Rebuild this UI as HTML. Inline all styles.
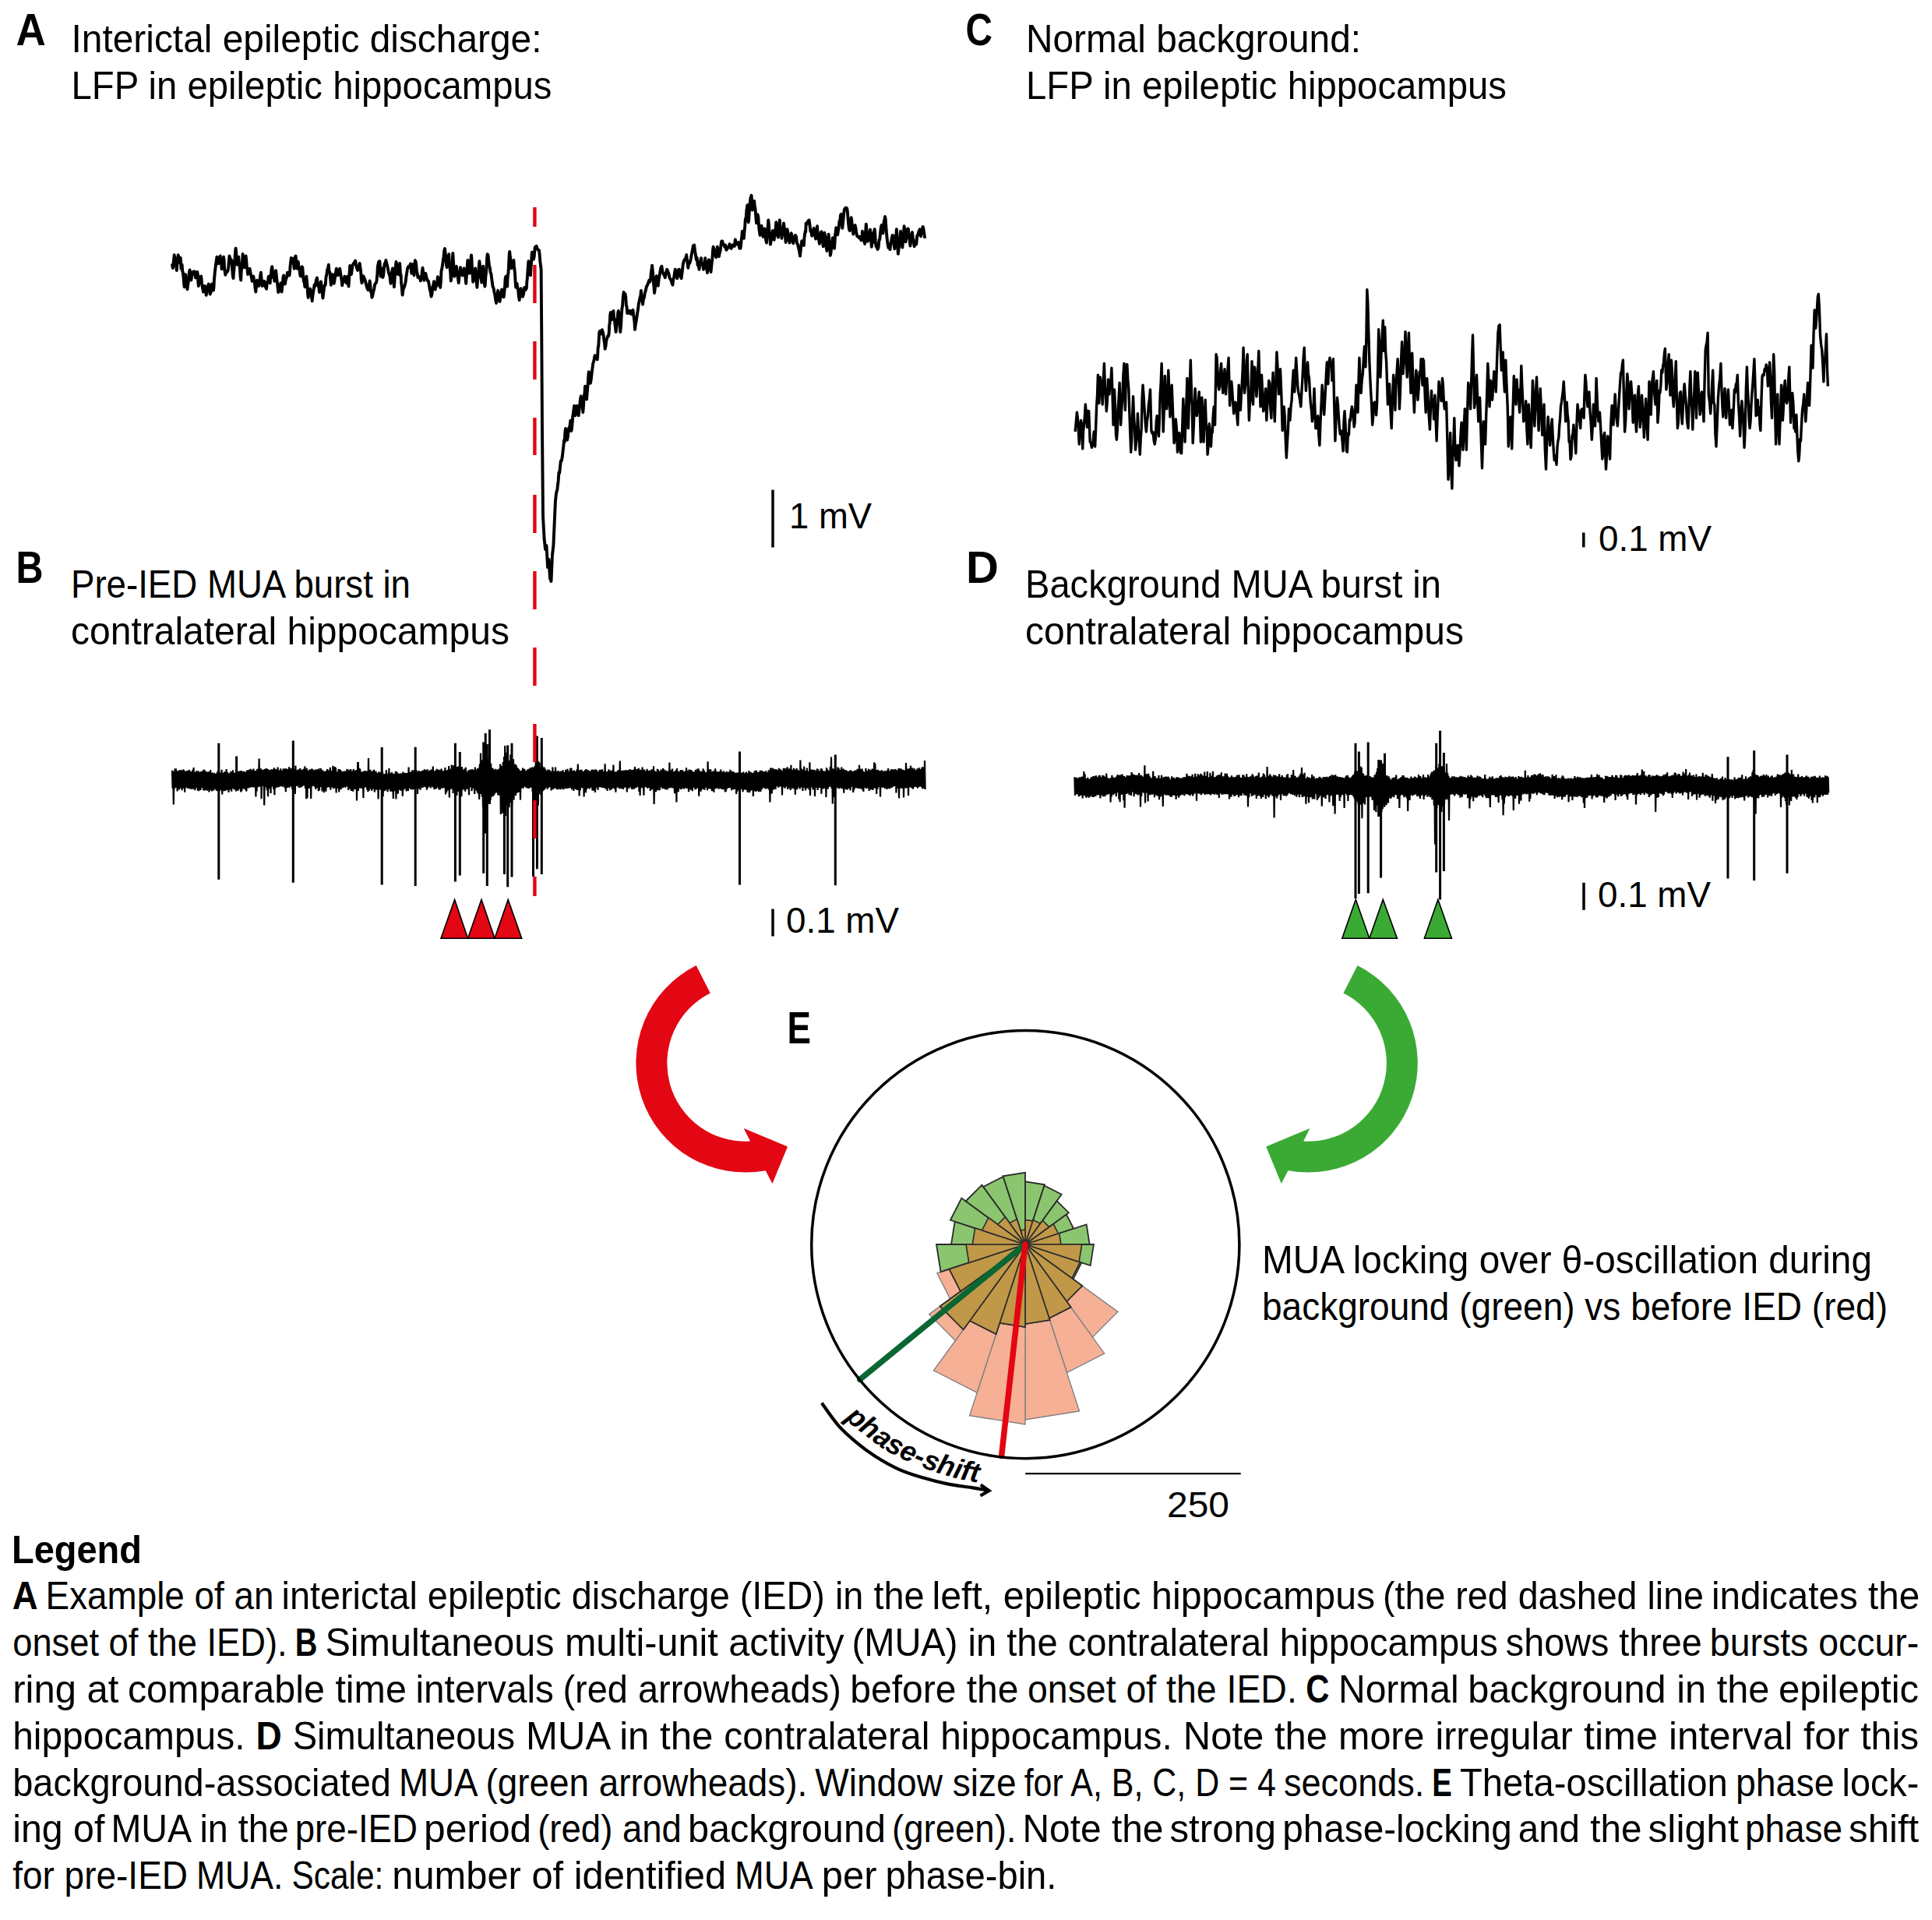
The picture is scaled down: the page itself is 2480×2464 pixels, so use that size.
<!DOCTYPE html>
<html><head><meta charset="utf-8"><style>html,body{margin:0;padding:0;background:#fff;width:2480px;height:2464px;overflow:hidden}</style></head>
<body>
<svg width="2480" height="2464" viewBox="0 0 2480 2464" style="display:block;font-family:'Liberation Sans',sans-serif">
<rect width="2480" height="2464" fill="#fff"/>
<text x="20.5" y="58.4" font-size="58" font-weight="bold" font-style="normal" textLength="38.3" lengthAdjust="spacingAndGlyphs" >A</text>
<text x="91.5" y="67.3" font-size="49.5" font-weight="normal" font-style="normal" textLength="604.0" lengthAdjust="spacingAndGlyphs" >Interictal epileptic discharge:</text>
<text x="91.5" y="126.7" font-size="49.5" font-weight="normal" font-style="normal" textLength="617.0" lengthAdjust="spacingAndGlyphs" >LFP in epileptic hippocampus</text>
<text x="1239.5" y="58.4" font-size="58" font-weight="bold" font-style="normal" textLength="34.5" lengthAdjust="spacingAndGlyphs" >C</text>
<text x="1317.0" y="67.3" font-size="49.5" font-weight="normal" font-style="normal" textLength="430.0" lengthAdjust="spacingAndGlyphs" >Normal background:</text>
<text x="1317.0" y="126.7" font-size="49.5" font-weight="normal" font-style="normal" textLength="617.0" lengthAdjust="spacingAndGlyphs" >LFP in epileptic hippocampus</text>
<text x="20.5" y="747.8" font-size="58" font-weight="bold" font-style="normal" textLength="35.0" lengthAdjust="spacingAndGlyphs" >B</text>
<text x="91.0" y="767.0" font-size="49.5" font-weight="normal" font-style="normal" textLength="436.0" lengthAdjust="spacingAndGlyphs" >Pre-IED MUA burst in</text>
<text x="91.0" y="826.7" font-size="49.5" font-weight="normal" font-style="normal" textLength="563.0" lengthAdjust="spacingAndGlyphs" >contralateral hippocampus</text>
<text x="1240.0" y="747.8" font-size="58" font-weight="bold" font-style="normal" >D</text>
<text x="1316.0" y="767.0" font-size="49.5" font-weight="normal" font-style="normal" textLength="534.0" lengthAdjust="spacingAndGlyphs" >Background MUA burst in</text>
<text x="1316.0" y="826.7" font-size="49.5" font-weight="normal" font-style="normal" textLength="563.0" lengthAdjust="spacingAndGlyphs" >contralateral hippocampus</text>
<g stroke="#000" stroke-width="3.5">
<line x1="992" y1="628.6" x2="992" y2="702.5"/>
<line x1="2032.8" y1="683.5" x2="2032.8" y2="702.3"/>
<line x1="992" y1="1166.5" x2="992" y2="1201.5"/>
<line x1="2033" y1="1132.8" x2="2033" y2="1167.8"/>
</g>
<text x="1013.0" y="677.8" font-size="47.025" font-weight="normal" font-style="normal" textLength="106.0" lengthAdjust="spacingAndGlyphs" >1 mV</text>
<text x="2052.0" y="706.7" font-size="47.025" font-weight="normal" font-style="normal" textLength="145.0" lengthAdjust="spacingAndGlyphs" >0.1 mV</text>
<text x="1009.0" y="1197.4" font-size="47.025" font-weight="normal" font-style="normal" textLength="145.0" lengthAdjust="spacingAndGlyphs" >0.1 mV</text>
<text x="2051.0" y="1164.3" font-size="47.025" font-weight="normal" font-style="normal" textLength="145.0" lengthAdjust="spacingAndGlyphs" >0.1 mV</text>
<path d="M221.0,338.4 221.8,344.0 222.5,338.4 223.1,333.5 223.7,327.3 225.2,334.7 226.0,340.3 226.8,347.1 227.4,338.6 228.0,332.9 228.7,327.3 229.6,330.1 230.5,337.2 231.8,331.0 232.1,338.0 232.4,344.7 233.6,339.7 234.3,348.4 234.9,350.0 235.5,355.5 236.1,363.6 236.7,368.3 237.4,361.0 238.0,352.1 238.8,358.8 239.6,362.9 240.5,371.4 241.2,365.1 242.0,360.5 242.8,349.8 243.6,346.5 244.5,352.0 245.4,359.6 246.5,351.7 247.5,349.3 248.5,348.4 249.8,348.4 251.0,356.5 252.1,352.2 253.3,349.0 253.8,352.2 254.3,361.6 254.8,367.0 255.6,363.4 256.4,358.7 257.2,355.2 258.2,354.5 259.1,363.7 260.0,369.6 261.0,374.5 261.9,371.0 262.8,367.0 263.8,369.6 264.7,378.8 265.7,373.0 266.8,367.1 267.8,364.5 268.7,369.3 269.7,377.6 270.5,375.6 271.3,367.1 272.1,364.5 273.1,368.5 274.0,372.6 274.5,368.5 274.9,359.2 275.4,354.2 275.9,348.4 276.7,342.4 277.5,336.1 278.4,329.8 279.3,331.4 280.2,338.4 281.5,333.6 282.7,328.5 283.3,337.1 283.9,336.3 284.6,345.3 285.4,342.0 286.2,335.2 287.0,329.8 287.6,334.1 288.2,345.6 288.7,348.7 289.3,352.7 290.4,348.2 291.5,349.2 292.6,347.1 293.3,342.2 293.9,334.3 294.5,328.5 295.7,332.5 297.0,333.5 297.6,339.2 298.2,346.7 298.9,354.3 299.5,357.1 300.0,349.2 300.5,344.7 301.0,336.8 301.5,331.7 302.1,322.4 302.6,318.6 303.2,324.3 303.8,332.2 304.4,339.7 305.4,336.7 306.3,329.8 306.9,338.2 307.4,338.8 308.0,345.9 308.6,355.0 309.2,359.6 309.7,348.5 310.2,345.1 310.7,339.2 311.1,335.5 311.6,326.0 312.3,333.3 313.1,336.9 313.8,343.4 314.7,335.2 315.6,328.5 316.2,333.9 316.9,343.7 317.5,345.3 318.1,352.1 319.3,347.7 320.6,344.7 321.6,350.8 322.7,355.2 323.7,360.8 325.3,354.6 326.1,359.1 326.8,362.1 327.5,369.5 328.3,374.5 329.1,366.0 329.9,359.6 331.1,365.9 332.4,367.0 333.2,362.7 334.0,355.4 334.9,349.6 335.5,356.9 336.1,360.5 336.7,367.0 338.0,366.2 339.2,360.8 340.1,364.1 341.0,368.7 342.0,370.7 342.9,362.5 343.9,360.7 344.8,354.6 345.7,355.2 346.7,363.3 347.3,353.5 347.9,352.1 348.5,345.5 349.2,342.2 349.9,347.2 350.7,356.4 351.5,354.3 352.3,360.8 353.2,352.6 354.1,347.1 354.8,353.2 355.4,359.4 356.0,363.5 356.6,369.1 357.2,375.1 358.3,372.7 359.3,368.4 360.3,363.3 361.0,366.6 361.6,374.5 362.2,369.0 362.8,364.0 363.4,356.3 364.1,353.4 365.0,359.5 365.9,364.5 367.0,357.7 368.0,356.7 369.0,349.6 370.3,351.9 371.5,353.4 372.1,348.0 372.6,340.9 373.2,336.3 373.8,331.0 375.2,332.2 376.1,332.0 376.9,338.0 377.7,344.7 378.4,340.1 379.0,329.2 379.6,328.5 380.2,335.8 380.8,335.4 381.5,344.7 382.7,336.0 383.5,342.3 384.3,343.4 385.0,351.7 385.8,354.6 386.7,348.7 387.7,342.2 388.4,344.0 389.2,355.4 389.9,361.0 390.7,362.9 391.4,368.3 392.3,360.8 393.3,354.6 393.9,361.1 394.5,366.1 395.1,377.5 395.7,381.9 397.0,375.1 398.2,370.7 399.1,375.8 399.9,379.4 400.7,386.3 401.6,377.8 402.6,372.0 403.7,365.3 404.8,367.0 405.8,360.0 406.9,356.5 407.7,363.2 408.5,365.8 409.3,368.9 410.0,375.1 411.0,367.5 411.9,361.4 412.5,365.5 413.1,372.0 413.8,376.4 414.4,382.5 415.2,376.8 416.0,369.4 416.9,365.6 417.7,365.9 418.5,355.7 419.3,352.1 420.2,345.7 421.0,344.6 421.8,339.7 422.6,349.3 423.4,349.5 424.2,358.8 424.9,365.8 425.9,357.6 426.8,352.1 427.7,354.1 428.7,363.9 429.4,360.7 430.2,354.2 431.0,349.6 431.8,344.7 432.7,347.4 433.6,353.4 434.9,350.0 436.1,344.7 436.9,348.9 437.7,355.2 438.4,358.5 439.2,366.4 440.3,359.8 441.3,361.5 442.3,354.6 443.6,357.8 444.8,363.3 446.1,354.6 446.8,361.8 447.5,367.6 448.0,360.9 448.4,353.3 448.8,346.5 449.2,340.9 450.1,347.9 451.0,352.1 451.8,345.6 452.6,340.5 453.8,338.2 455.0,336.6 456.2,334.6 457.2,341.3 458.1,344.3 459.1,346.9 460.4,343.2 461.6,337.9 462.4,342.9 463.1,347.5 463.8,358.9 464.5,363.1 465.3,360.7 466.2,354.1 467.5,356.7 468.8,359.9 469.7,364.1 470.7,367.7 471.7,370.9 472.6,372.2 473.6,368.4 474.6,360.5 475.3,364.9 476.0,374.5 476.7,373.8 477.4,381.9 478.3,379.6 479.2,374.5 480.2,371.2 481.1,365.1 483.0,362.5 483.6,359.7 484.3,351.9 484.9,341.8 486.1,336.0 487.3,335.3 487.7,338.0 488.1,350.0 488.6,354.7 489.3,347.3 490.1,344.3 490.8,350.1 491.4,356.0 492.2,353.4 493.0,343.6 493.7,338.2 494.5,339.0 495.3,334.0 496.2,337.5 497.0,340.4 497.9,344.3 498.8,349.3 499.7,352.2 500.6,355.6 501.5,363.8 502.4,356.9 503.2,348.7 504.1,344.3 504.5,346.7 505.0,357.4 505.4,362.2 505.9,368.3 506.4,362.7 506.9,353.2 507.5,347.4 508.0,340.2 508.5,335.9 509.3,339.4 510.0,347.2 510.8,352.1 511.6,345.6 512.4,343.4 513.1,337.9 513.6,344.4 514.1,354.0 514.6,352.3 515.1,363.1 515.6,366.8 516.1,372.8 516.6,378.6 517.7,370.9 518.8,368.6 519.9,365.1 520.7,361.5 521.5,354.5 522.3,349.7 523.1,344.3 524.4,341.8 525.7,343.0 527.0,338.5 527.6,344.6 528.3,350.8 528.9,340.2 529.6,339.2 530.6,344.8 531.5,353.4 532.2,343.0 532.8,334.2 533.5,335.3 534.2,339.3 535.0,348.6 535.7,350.9 536.4,356.0 537.6,354.9 538.8,356.9 539.9,360.5 540.8,357.4 541.7,349.7 542.5,343.7 543.2,349.2 543.8,354.4 544.5,359.9 545.4,355.4 546.4,350.8 547.3,355.7 548.2,358.2 549.1,360.6 550.0,360.9 550.9,366.3 551.8,372.2 552.7,374.3 553.5,380.6 554.4,378.1 555.3,368.1 556.2,365.7 557.1,361.2 557.9,366.3 558.7,371.5 559.5,364.6 560.3,367.2 561.1,362.6 561.9,355.3 563.0,358.9 564.1,366.1 565.2,368.9 565.8,362.0 566.5,347.7 567.1,345.6 567.9,340.9 568.7,334.9 569.4,329.9 570.2,322.1 571.0,319.1 571.6,324.5 572.3,330.7 572.9,339.7 573.6,343.1 574.4,338.2 575.3,331.8 576.2,326.2 576.7,336.5 577.2,338.7 577.7,345.9 578.2,349.7 578.8,360.5 579.3,356.9 579.8,348.4 580.3,341.2 580.8,333.5 581.3,324.9 581.8,332.6 582.3,340.3 582.8,346.7 583.3,354.7 584.1,349.9 585.0,346.2 585.9,341.8 586.6,350.4 587.3,353.7 588.0,357.6 588.7,363.1 589.5,355.2 590.3,348.3 591.0,343.1 591.9,350.0 592.8,351.1 593.6,353.4 594.6,349.0 595.6,344.3 596.4,350.1 597.3,354.8 598.2,363.8 598.7,356.2 599.3,350.8 599.8,340.6 600.4,334.0 601.1,339.1 601.9,344.7 602.7,350.8 603.3,345.2 603.9,335.7 604.4,332.8 605.0,327.5 605.5,332.5 605.9,343.2 606.3,346.4 606.8,356.2 607.2,361.8 608.2,359.3 609.2,349.5 610.2,344.3 610.7,349.2 611.3,357.1 611.8,362.8 612.4,368.9 613.0,360.0 613.6,356.5 614.2,353.2 614.8,341.5 615.4,335.3 616.1,341.6 616.8,346.6 617.5,356.4 618.2,362.5 618.9,352.8 619.5,346.2 620.2,341.8 620.7,351.0 621.3,352.7 621.8,363.5 622.4,367.6 622.8,365.1 623.3,356.4 623.8,351.1 624.3,348.3 624.8,337.6 625.2,330.8 625.7,326.2 626.5,327.5 627.3,334.7 628.1,342.1 628.8,343.1 629.6,350.1 630.3,350.8 631.0,355.9 631.7,361.6 632.5,367.6 633.7,370.2 634.6,375.6 635.4,379.2 636.2,384.8 637.0,389.0 637.7,384.3 638.4,377.6 639.2,372.8 640.0,377.5 640.7,382.8 641.5,387.0 642.4,381.7 643.2,377.8 644.1,371.5 645.4,380.5 646.7,381.2 647.3,375.9 648.0,368.1 648.6,357.6 649.3,354.7 650.2,362.0 651.2,367.6 651.6,357.0 652.1,351.8 652.5,350.4 652.9,343.7 653.3,335.4 653.8,325.6 654.2,323.0 654.9,329.3 655.7,335.7 656.4,344.3 657.4,342.3 658.4,342.4 659.4,334.0 659.9,341.5 660.5,346.3 661.1,352.4 661.6,361.8 662.2,368.9 663.5,363.8 664.3,368.7 665.1,371.9 665.9,380.0 666.7,385.1 667.7,375.1 668.7,370.2 669.8,377.9 671.0,380.6 672.1,377.1 673.2,368.9 674.5,372.0 675.8,370.2 676.3,362.2 676.8,357.4 677.4,349.0 677.9,341.4 678.4,335.3 679.3,340.6 680.1,344.5 681.0,353.4 681.5,342.8 681.9,340.3 682.4,330.7 682.9,323.6 683.9,328.6 684.9,332.7 685.7,329.5 686.6,318.1 687.4,316.5 688.6,315.9 689.7,319.2 690.8,320.8 692.0,321.1 692.6,326.4 693.3,335.6 693.9,340.0 694.6,345.6 695.2,420.0 696.0,550.0 697.0,662.0 698.5,690.0 700.0,705.0 701.5,700.0 703.0,728.0 704.5,718.0 706.0,742.0 707.5,746.0 709.0,712.0 710.4,700.0 712.9,643.8 713.7,635.7 714.4,630.9 715.2,629.3 715.9,623.1 716.7,616.7 717.4,606.2 718.2,607.1 719.0,599.2 719.8,591.7 720.8,591.5 721.9,585.4 722.6,578.7 723.3,573.0 724.0,565.2 724.7,567.4 725.3,555.5 726.0,550.0 726.7,558.4 727.4,558.3 728.1,564.6 729.0,559.9 729.8,550.9 730.6,548.7 731.5,546.7 732.3,539.6 732.8,543.6 733.3,553.1 734.0,550.1 734.6,543.1 735.2,534.7 735.8,530.5 736.5,525.2 737.1,520.8 737.8,527.0 738.5,533.3 739.6,525.9 740.6,520.8 741.7,525.3 742.7,533.3 743.5,526.4 744.3,518.6 745.1,511.7 745.8,508.3 746.5,513.4 747.1,520.7 747.7,520.6 748.3,529.2 748.9,522.5 749.4,514.4 750.0,507.0 750.5,504.4 751.0,495.8 751.7,500.2 752.4,510.2 753.1,512.5 753.7,503.7 754.2,499.2 754.8,490.7 755.3,482.5 755.8,477.1 756.5,483.2 757.2,486.5 757.9,491.7 758.8,486.7 759.6,479.1 760.4,472.9 761.2,466.4 762.0,464.4 762.8,460.5 763.5,456.2 764.6,460.1 765.6,457.7 766.7,461.5 767.2,455.3 767.7,445.5 768.2,444.7 768.8,434.8 769.3,427.1 769.8,425.0 770.8,425.4 771.9,428.5 772.9,423.2 774.0,427.1 774.6,429.9 775.3,435.9 776.0,440.2 776.7,447.9 777.5,444.2 778.3,437.1 779.2,434.4 780.2,431.2 781.2,431.2 781.8,426.5 782.2,417.5 782.8,414.1 783.2,404.9 783.8,401.0 784.6,403.1 785.4,410.4 786.5,400.6 787.5,399.0 788.1,408.5 788.8,409.1 789.4,415.7 790.0,420.6 790.6,426.0 791.2,421.0 791.9,415.3 792.5,414.0 793.1,402.1 793.8,399.0 794.4,402.3 795.0,410.3 795.6,416.3 796.2,426.0 796.7,421.6 797.2,415.6 797.7,405.6 798.2,398.6 798.6,394.8 799.1,392.5 799.6,383.3 800.6,375.0 801.5,380.3 802.5,377.1 803.2,381.0 803.9,391.9 804.5,393.5 805.2,402.1 806.2,401.5 807.3,398.8 808.3,402.1 809.4,398.9 810.4,403.0 811.5,400.8 812.5,397.9 813.1,403.3 813.8,408.5 814.4,412.5 815.0,422.9 815.8,416.6 816.7,411.9 817.5,406.3 818.3,401.0 819.1,396.1 819.9,389.2 820.6,386.8 821.4,382.2 822.2,380.4 822.9,372.9 823.6,382.9 824.3,384.4 825.0,390.6 825.9,384.5 826.9,381.6 827.8,376.0 828.8,372.9 829.9,367.8 831.1,365.8 832.3,362.5 833.3,359.7 834.4,361.5 835.1,357.6 835.7,350.8 836.4,346.4 837.1,340.6 837.6,346.1 838.1,350.8 838.5,356.2 839.0,363.7 839.5,368.9 840.0,376.0 840.7,371.1 841.4,365.1 842.0,356.6 842.7,354.2 843.8,360.6 844.8,366.7 845.7,358.0 846.6,353.9 847.4,348.8 848.3,343.8 849.4,341.7 850.5,349.0 851.6,351.6 852.7,353.4 853.8,356.2 855.0,350.1 856.2,345.8 857.3,348.5 858.3,350.6 859.4,356.2 860.4,358.0 861.5,359.7 862.5,363.5 863.5,365.6 864.3,358.0 865.1,356.2 865.9,351.1 866.7,345.8 867.5,349.3 868.3,352.5 869.2,357.3 870.1,354.7 871.0,346.0 871.9,345.8 872.8,350.7 873.7,354.0 874.6,357.3 875.3,352.0 876.0,346.3 876.7,339.6 877.8,335.0 879.0,332.8 880.1,331.6 881.2,327.1 881.9,333.6 882.6,338.6 883.3,343.8 884.2,336.9 885.1,338.0 885.9,335.9 886.8,332.1 887.7,326.9 888.5,322.9 889.9,315.3 891.2,314.6 892.1,322.9 892.9,326.8 893.8,333.3 894.7,330.9 895.6,340.4 896.6,339.4 897.5,345.8 898.3,338.1 899.2,334.7 900.0,331.2 901.0,338.9 902.1,340.2 903.1,345.8 903.8,341.6 904.5,340.0 905.2,331.2 906.1,341.0 907.0,343.5 907.9,350.0 908.6,343.9 909.3,336.1 910.0,333.3 910.8,337.0 911.7,344.7 912.5,349.0 913.1,343.4 913.8,336.3 914.4,331.8 915.0,321.4 915.6,316.7 916.5,319.9 917.4,325.0 918.3,328.1 919.2,330.2 920.0,325.8 920.8,316.7 921.9,323.8 922.9,329.2 923.8,324.5 924.6,322.0 925.4,315.1 926.2,309.7 927.1,309.4 928.1,312.9 929.2,313.8 930.2,316.9 931.3,314.8 932.3,320.8 933.3,319.4 934.4,318.2 935.4,317.0 936.5,313.2 937.5,316.8 938.6,318.9 939.6,317.1 940.7,314.3 941.7,314.9 942.8,315.9 943.8,307.5 944.9,312.7 945.9,313.5 947.0,313.2 948.0,311.0 949.2,318.6 950.4,318.8 951.0,315.8 951.6,308.4 952.3,302.9 952.9,296.8 953.9,303.0 954.9,305.8 955.4,298.5 955.9,293.4 956.3,289.4 956.8,281.2 957.7,279.5 958.5,268.8 959.4,263.1 959.8,270.3 960.3,278.2 960.7,285.1 961.2,281.9 961.7,272.8 962.2,269.9 962.6,260.5 963.6,253.5 964.6,250.8 965.0,256.7 965.4,262.9 965.9,269.6 967.0,265.5 968.2,257.9 968.8,265.9 969.3,266.0 969.9,273.0 970.5,281.5 971.1,286.4 971.8,279.5 972.6,275.4 973.4,278.7 974.1,291.0 974.8,296.4 975.6,301.9 976.6,296.9 977.5,289.6 978.5,295.7 979.5,303.9 980.4,301.0 981.4,293.5 982.3,299.0 983.1,308.0 984.0,311.6 984.6,302.4 985.2,295.2 985.7,290.3 986.3,282.5 986.8,287.2 987.4,296.4 987.9,301.7 988.4,305.3 988.9,313.6 989.9,307.9 990.8,301.2 991.8,296.1 992.7,304.0 993.7,307.8 994.3,300.7 995.0,295.5 995.6,293.4 996.3,285.1 997.2,296.5 998.0,302.5 998.9,304.5 999.5,297.3 1000.2,290.3 1000.8,282.5 1001.5,291.7 1002.1,293.9 1002.8,297.8 1003.4,305.8 1004.3,299.6 1005.1,293.9 1006.0,286.4 1006.6,290.7 1007.3,295.1 1007.9,301.7 1008.6,311.0 1009.2,306.9 1009.9,298.1 1010.5,294.2 1011.5,299.7 1012.5,306.3 1013.5,311.6 1014.6,306.9 1015.7,299.3 1016.6,302.9 1017.4,309.1 1018.3,312.3 1019.1,306.9 1020.0,304.6 1020.9,301.9 1022.0,303.6 1023.0,312.2 1024.1,313.6 1025.1,318.5 1026.0,321.9 1027.0,328.5 1027.7,321.2 1028.5,315.0 1029.3,309.1 1030.6,313.5 1031.9,314.9 1032.4,305.7 1033.0,301.2 1033.6,297.0 1034.2,297.7 1034.7,286.4 1036.0,287.2 1037.3,283.6 1038.6,282.5 1039.5,289.1 1040.4,297.1 1041.3,297.1 1042.2,302.6 1043.4,296.9 1044.6,292.9 1045.4,300.1 1046.3,303.0 1047.1,306.5 1047.7,302.6 1048.4,294.6 1049.0,290.3 1049.7,300.2 1050.4,305.4 1051.2,308.5 1051.9,312.9 1052.8,309.3 1053.7,298.1 1054.5,297.4 1055.3,305.1 1056.0,309.5 1056.7,316.2 1057.3,311.3 1057.8,306.0 1058.4,298.7 1059.1,303.8 1059.9,306.6 1060.6,317.0 1061.4,322.0 1062.1,313.2 1062.8,307.0 1063.6,300.6 1064.1,306.1 1064.7,313.5 1065.2,315.9 1065.8,327.8 1066.5,324.8 1067.3,317.1 1068.0,313.3 1068.8,305.2 1069.9,316.3 1071.0,318.8 1071.5,312.2 1072.1,301.5 1072.7,296.9 1073.3,292.2 1074.3,294.1 1075.2,301.3 1076.0,295.8 1076.7,292.6 1077.5,283.6 1078.2,284.4 1079.0,275.9 1079.8,274.8 1080.3,281.5 1080.8,286.6 1081.3,292.9 1082.0,286.2 1082.6,280.7 1083.2,273.7 1083.9,268.9 1085.4,266.6 1086.9,267.0 1087.6,269.1 1088.4,278.6 1089.2,288.5 1090.0,294.6 1090.8,296.1 1091.4,293.4 1092.0,286.5 1092.7,279.3 1093.3,283.1 1094.0,293.1 1094.6,295.2 1095.3,300.6 1096.4,294.7 1097.6,289.0 1098.5,293.1 1099.3,298.7 1100.2,303.2 1101.3,303.3 1102.4,305.1 1103.5,303.9 1104.5,306.5 1105.6,308.4 1106.3,307.6 1106.9,296.8 1107.7,300.7 1108.5,304.3 1109.4,310.1 1110.2,312.9 1110.6,308.2 1111.0,297.9 1111.4,293.6 1111.8,287.7 1112.6,297.1 1113.3,303.0 1114.0,309.7 1115.0,305.0 1116.0,303.2 1117.0,294.8 1117.6,300.7 1118.2,309.7 1118.8,316.8 1119.6,311.1 1120.4,311.0 1121.2,298.9 1121.9,297.2 1122.7,294.2 1123.3,300.1 1123.8,309.9 1124.4,315.5 1125.5,317.5 1126.6,319.9 1127.6,317.5 1128.4,308.3 1129.2,307.7 1130.0,299.7 1130.7,293.2 1131.5,289.0 1132.5,295.4 1133.5,299.3 1134.1,292.0 1134.7,284.1 1135.4,282.5 1136.0,278.0 1136.7,281.4 1137.3,290.0 1138.0,299.0 1138.6,305.6 1139.3,311.6 1140.4,317.9 1141.4,316.8 1142.5,320.1 1143.3,312.1 1144.1,309.3 1144.9,304.4 1145.7,301.9 1146.6,305.1 1147.5,314.5 1148.3,319.4 1149.0,311.7 1149.6,302.4 1150.3,302.0 1150.9,294.2 1151.3,300.3 1151.7,307.6 1152.1,313.4 1152.5,320.9 1152.9,325.9 1153.5,320.1 1154.2,316.9 1154.8,309.3 1155.5,303.4 1156.1,296.8 1156.9,304.6 1157.7,307.4 1158.4,317.5 1159.0,310.3 1159.5,303.3 1160.1,297.5 1160.6,290.3 1161.3,294.0 1161.9,307.3 1162.6,310.3 1163.4,306.4 1164.2,299.3 1165.0,294.0 1165.8,293.5 1166.4,298.4 1167.1,304.3 1167.7,308.4 1168.4,315.5 1169.3,309.9 1170.1,302.5 1171.0,298.1 1171.8,305.3 1172.7,308.5 1173.6,316.2 1174.5,313.2 1175.4,312.6 1176.3,313.3 1177.2,302.6 1178.1,301.9 1179.4,297.0 1180.7,294.2 1182.0,303.2 1182.8,297.3 1183.7,296.8 1184.6,290.9 1185.4,293.4 1186.3,299.8 1187.2,305.8" fill="none" stroke="#000" stroke-width="3.9" stroke-linejoin="round"/>
<path d="M1380.2,554.0 1381.3,541.4 1382.4,529.2 1383.4,536.9 1384.3,550.7 1385.3,570.0 1386.4,551.9 1387.5,539.4 1388.6,545.0 1389.7,575.9 1390.6,553.0 1391.5,544.9 1392.4,534.1 1393.3,519.0 1394.4,532.5 1395.5,548.2 1396.6,527.3 1397.7,527.7 1399.2,567.1 1400.3,568.0 1401.4,574.4 1402.3,572.4 1403.3,564.1 1404.3,554.0 1405.7,573.0 1406.6,549.5 1407.6,521.7 1408.5,507.8 1409.4,481.1 1410.8,517.5 1412.3,484.0 1413.3,492.2 1414.2,500.3 1415.2,519.0 1416.3,487.9 1417.4,466.5 1418.4,495.6 1419.3,508.6 1420.3,527.7 1421.4,514.3 1422.5,486.9 1424.0,505.9 1424.9,491.8 1425.9,489.1 1426.9,472.3 1428.0,505.2 1429.1,545.2 1430.5,500.0 1431.5,520.5 1432.5,557.7 1433.4,564.2 1434.4,550.6 1435.3,524.7 1436.2,509.0 1437.1,491.3 1438.6,545.2 1439.6,527.5 1440.7,513.1 1441.8,483.2 1442.9,466.5 1444.4,526.3 1445.8,467.9 1446.8,467.7 1447.8,486.7 1448.8,498.6 1449.7,525.9 1450.7,553.7 1451.7,580.2 1452.7,564.3 1453.6,534.5 1454.6,508.8 1455.6,536.5 1456.5,547.9 1457.5,577.3 1458.5,567.0 1459.5,558.8 1460.4,530.7 1461.4,552.8 1462.4,567.2 1463.3,583.2 1464.3,561.8 1465.2,549.4 1466.1,510.9 1467.0,494.2 1468.1,508.5 1469.2,526.9 1470.3,543.5 1471.4,554.0 1472.4,540.6 1473.4,534.2 1474.4,519.9 1475.5,511.5 1476.5,500.0 1477.9,552.5 1479.0,556.1 1480.1,554.4 1481.2,565.5 1482.3,570.0 1483.3,563.1 1484.3,539.9 1485.2,533.6 1486.3,545.3 1487.4,559.8 1488.3,540.5 1489.2,506.7 1490.2,490.9 1491.1,466.5 1492.2,503.9 1493.2,554.0 1494.3,525.1 1495.4,482.5 1496.5,517.5 1497.6,524.8 1498.7,512.2 1499.8,475.2 1500.9,503.8 1502.0,535.0 1503.1,519.1 1504.2,494.2 1505.2,519.7 1506.1,544.4 1507.1,568.6 1508.2,562.5 1509.3,537.9 1510.4,551.2 1511.5,580.2 1512.6,574.2 1513.7,555.4 1514.6,563.9 1515.6,581.4 1516.6,581.7 1517.7,547.8 1518.8,511.7 1519.9,535.4 1521.0,567.1 1521.9,541.6 1522.9,517.1 1523.9,485.4 1525.3,549.6 1526.3,520.7 1527.3,494.2 1528.3,462.1 1529.2,494.5 1530.2,520.3 1531.2,568.6 1532.1,550.6 1533.1,526.1 1534.1,498.6 1535.2,517.0 1536.3,533.6 1537.3,523.8 1538.2,519.4 1539.2,502.9 1540.3,532.3 1541.4,567.1 1542.8,510.2 1543.9,534.4 1545.0,567.1 1546.1,539.0 1547.2,513.2 1548.2,543.6 1549.2,551.5 1550.1,583.2 1551.2,570.6 1552.3,543.8 1553.4,554.5 1554.5,573.0 1555.4,553.6 1556.3,555.0 1557.2,534.1 1558.2,521.9 1559.6,545.2 1561.1,454.8 1562.0,458.3 1562.9,475.3 1563.8,494.3 1564.7,500.0 1565.7,496.0 1566.7,475.1 1567.6,466.5 1568.7,487.9 1569.8,504.4 1570.9,493.4 1572.0,473.8 1573.5,505.9 1574.4,490.3 1575.3,484.7 1576.2,470.7 1577.1,459.2 1578.6,520.4 1579.7,501.9 1580.8,489.8 1581.7,500.5 1582.7,517.4 1583.7,530.7 1584.8,523.5 1585.9,516.1 1586.8,522.4 1587.8,533.0 1588.8,545.2 1590.2,494.2 1591.3,516.9 1592.4,526.3 1593.3,507.5 1594.3,491.5 1595.2,473.3 1596.1,446.1 1597.5,504.4 1598.4,495.5 1599.4,493.2 1600.3,462.3 1601.2,454.8 1602.3,502.0 1603.4,539.4 1604.3,518.5 1605.2,512.6 1606.1,492.7 1607.0,463.6 1608.5,519.0 1609.9,470.9 1610.9,471.8 1611.9,490.3 1612.9,508.8 1613.8,493.3 1614.8,474.6 1615.8,450.4 1616.9,490.6 1618.0,521.9 1619.5,481.1 1620.6,504.0 1621.7,527.7 1622.6,520.7 1623.6,512.2 1624.6,498.6 1625.8,539.4 1626.7,521.9 1627.7,511.5 1628.7,488.4 1629.7,490.8 1630.8,524.2 1631.9,536.5 1633.0,501.1 1634.1,478.1 1635.2,515.3 1636.3,540.9 1637.6,495.0 1638.9,451.9 1640.1,473.5 1641.4,505.9 1642.5,492.1 1643.5,473.8 1644.9,507.7 1646.2,552.5 1647.2,531.7 1648.2,521.9 1649.2,534.4 1650.3,565.5 1651.3,587.5 1652.3,569.6 1653.4,551.9 1654.5,524.8 1655.9,539.4 1657.0,522.5 1658.1,513.6 1659.2,491.4 1660.3,475.2 1661.8,502.9 1662.7,480.5 1663.7,459.2 1664.7,477.7 1665.8,495.7 1666.9,504.4 1667.9,508.2 1668.8,514.6 1669.8,521.9 1670.9,502.0 1672.0,484.5 1673.1,459.6 1674.2,446.1 1675.3,479.9 1676.4,501.5 1677.5,480.8 1678.6,465.0 1679.5,480.4 1680.5,485.3 1681.5,505.1 1682.4,517.9 1683.4,525.7 1684.4,540.9 1685.7,531.8 1687.0,498.6 1688.8,549.6 1689.7,546.5 1690.7,549.6 1691.7,533.6 1692.8,558.3 1693.9,571.5 1695.0,541.8 1696.1,517.7 1697.2,494.2 1698.5,515.8 1699.7,532.1 1700.6,515.7 1701.5,498.9 1702.4,480.1 1703.3,465.0 1704.8,492.7 1705.9,465.1 1707.0,459.2 1708.0,467.6 1708.9,465.3 1709.9,488.4 1711.4,460.6 1712.6,515.4 1713.9,565.7 1715.2,533.6 1716.5,510.2 1717.4,519.1 1718.4,535.2 1719.4,549.6 1720.3,557.1 1721.3,552.7 1722.2,556.6 1723.1,566.6 1724.1,578.8 1725.0,541.0 1726.0,527.7 1727.2,547.5 1728.4,578.8 1729.4,580.2 1730.4,556.2 1731.4,558.3 1732.4,538.1 1733.4,539.9 1734.4,528.1 1735.4,521.9 1736.3,526.6 1737.3,535.5 1738.2,547.8 1739.1,542.3 1740.0,519.4 1741.0,494.2 1742.0,512.4 1743.0,529.2 1744.0,488.3 1744.9,459.2 1746.0,485.3 1747.1,504.4 1748.2,488.0 1749.3,479.5 1750.4,459.3 1751.5,444.6 1752.9,470.9 1753.9,431.7 1754.8,371.7 1755.8,388.2 1756.8,426.8 1757.8,462.3 1758.8,485.4 1759.7,503.3 1760.7,520.6 1761.7,545.2 1762.7,533.9 1763.6,517.5 1764.6,516.1 1765.6,517.8 1766.6,532.7 1767.5,519.0 1768.6,477.7 1769.7,422.7 1770.8,446.7 1771.9,484.0 1773.0,454.4 1774.1,432.9 1775.3,411.1 1776.3,450.4 1777.7,419.8 1778.6,450.6 1779.6,464.5 1780.5,490.0 1781.4,519.0 1782.5,511.2 1783.6,492.7 1784.9,526.4 1786.2,549.6 1787.4,513.1 1788.7,481.1 1789.8,497.0 1790.9,526.3 1791.9,495.1 1793.0,478.3 1794.1,460.6 1795.2,479.3 1796.4,524.8 1797.5,500.6 1798.5,463.7 1799.6,438.8 1801.1,479.6 1802.0,464.5 1803.0,454.8 1804.0,425.6 1805.1,461.8 1806.2,484.0 1807.3,448.6 1808.4,427.1 1809.7,471.0 1811.0,504.4 1812.7,453.3 1814.1,498.2 1815.4,529.2 1816.6,497.7 1817.8,475.2 1818.9,488.5 1820.0,513.2 1821.1,499.4 1822.1,477.3 1823.1,482.6 1824.1,460.6 1825.9,494.2 1826.6,460.6 1827.5,463.3 1828.4,488.3 1829.3,510.4 1830.2,529.2 1831.7,485.4 1832.6,500.5 1833.5,519.3 1834.4,536.3 1835.4,551.1 1836.4,525.0 1837.5,501.5 1838.5,520.5 1839.5,513.0 1840.5,537.9 1841.9,507.3 1843.0,536.5 1844.1,565.7 1845.1,536.1 1846.0,515.9 1847.0,489.8 1848.0,499.4 1849.0,500.9 1850.0,514.6 1851.5,485.4 1852.4,494.7 1853.4,516.4 1854.4,524.8 1855.5,522.5 1856.6,516.1 1857.8,561.6 1859.0,615.3 1860.4,597.6 1861.7,555.4 1862.8,605.0 1863.9,626.9 1864.8,588.0 1865.8,568.4 1866.8,536.5 1867.9,578.5 1869.0,590.5 1870.1,585.7 1871.1,571.5 1872.1,585.9 1873.0,597.7 1874.0,578.0 1875.0,557.6 1876.0,542.3 1877.0,558.5 1878.0,577.3 1879.2,547.8 1880.3,524.8 1881.4,555.5 1882.4,577.3 1883.5,531.9 1884.7,491.3 1885.7,499.8 1886.7,506.4 1887.6,524.8 1888.6,492.9 1889.6,456.2 1890.5,430.0 1891.6,475.6 1892.6,523.4 1893.6,515.5 1894.5,497.4 1895.5,481.1 1896.7,514.0 1897.8,540.9 1899.6,510.2 1900.6,542.5 1901.5,570.9 1902.5,600.7 1904.3,540.9 1905.4,554.7 1906.6,570.0 1907.7,533.7 1908.7,505.6 1909.8,466.5 1910.9,487.7 1912.0,521.9 1913.4,488.4 1914.5,508.8 1915.6,513.2 1916.7,495.1 1917.8,476.7 1919.1,485.3 1920.3,502.9 1921.6,462.1 1922.9,427.1 1924.0,417.9 1925.1,416.9 1926.2,447.0 1927.3,475.2 1928.3,459.3 1929.2,451.9 1930.3,484.3 1931.4,502.9 1932.8,462.1 1934.0,494.4 1935.2,522.4 1936.3,573.0 1937.5,555.9 1938.6,535.6 1939.7,535.0 1940.7,575.9 1942.0,529.0 1943.3,482.5 1944.7,507.1 1946.0,519.0 1947.0,486.9 1947.9,501.4 1948.8,500.0 1949.7,514.0 1950.6,529.2 1951.7,510.0 1952.8,469.4 1953.8,495.1 1954.8,517.1 1955.7,540.9 1956.7,538.4 1957.7,538.1 1958.7,514.6 1959.8,550.1 1960.9,570.0 1962.3,519.0 1963.3,538.3 1964.3,558.1 1965.2,574.4 1966.3,535.1 1967.4,488.4 1968.7,513.9 1969.9,546.7 1971.2,509.0 1972.5,484.0 1973.8,518.6 1975.1,552.5 1976.2,519.9 1977.2,498.6 1978.5,528.1 1979.8,558.4 1980.9,539.3 1982.0,519.0 1983.2,574.6 1984.5,602.1 1985.8,563.5 1987.1,535.0 1988.4,552.5 1989.7,571.5 1991.0,553.7 1992.2,537.9 1993.3,561.7 1994.4,580.2 1995.3,590.5 1996.2,585.3 1997.1,587.4 1998.0,596.3 1999.0,574.0 1999.9,565.9 2000.8,562.3 2001.7,546.7 2002.6,537.5 2003.5,521.6 2004.5,516.0 2005.4,509.0 2006.3,502.3 2007.2,489.8 2008.5,511.8 2009.7,540.9 2011.2,516.1 2012.1,531.6 2013.1,539.2 2014.1,567.1 2015.1,566.5 2016.0,589.5 2017.0,586.1 2018.0,559.3 2019.0,556.8 2019.9,545.2 2020.9,558.7 2021.9,567.3 2022.8,581.7 2023.9,545.5 2025.0,519.0 2025.9,526.3 2026.9,534.3 2027.8,541.5 2028.7,549.6 2029.8,526.0 2030.9,524.8 2032.0,529.8 2033.1,536.5 2034.0,503.6 2034.9,481.1 2035.9,491.4 2036.9,509.7 2037.9,521.9 2038.9,516.3 2039.9,502.9 2041.0,528.7 2042.1,540.8 2043.3,564.2 2044.4,547.1 2045.4,519.0 2046.5,539.9 2047.6,546.7 2049.1,485.4 2050.1,510.7 2051.0,530.7 2052.0,540.9 2053.5,529.2 2054.6,548.3 2055.7,568.0 2056.8,589.0 2057.8,582.8 2058.8,558.4 2059.7,555.4 2061.5,602.1 2062.6,582.2 2063.7,559.8 2064.7,566.4 2065.6,577.1 2066.6,589.0 2067.8,544.3 2069.1,520.4 2070.0,527.5 2071.0,545.2 2072.1,525.4 2073.2,505.9 2074.2,524.8 2075.3,539.0 2076.4,546.7 2077.5,527.3 2078.6,507.6 2079.7,489.8 2080.6,477.9 2081.5,478.4 2082.5,467.5 2083.4,462.1 2084.5,511.7 2085.6,554.0 2086.7,539.7 2087.8,504.2 2088.9,479.6 2089.9,493.2 2091.0,524.8 2092.3,502.2 2093.6,489.8 2094.9,507.3 2096.2,542.3 2097.3,517.6 2098.5,507.3 2099.5,538.5 2100.5,554.0 2101.5,535.9 2102.4,506.0 2103.4,495.6 2104.4,525.8 2105.3,548.2 2106.4,535.3 2107.5,507.3 2108.5,523.1 2109.4,539.2 2110.4,561.3 2111.5,534.5 2112.6,511.7 2113.8,539.7 2115.1,564.2 2116.0,530.8 2117.0,489.8 2118.1,518.1 2119.2,532.1 2120.6,491.3 2122.4,476.7 2123.7,505.1 2125.0,519.0 2126.8,488.4 2127.9,542.3 2129.0,529.0 2130.1,501.5 2131.0,503.8 2131.9,493.8 2132.8,474.8 2133.8,478.1 2134.7,469.7 2135.6,464.7 2136.5,452.9 2137.4,447.5 2138.9,500.0 2140.0,490.4 2141.1,467.7 2142.2,454.8 2144.0,507.3 2145.4,462.1 2146.4,476.5 2147.4,510.6 2148.3,521.9 2149.3,506.5 2150.3,484.3 2151.3,463.6 2152.4,512.1 2153.4,549.6 2154.4,540.9 2155.4,521.5 2156.4,504.4 2157.3,502.8 2158.3,526.6 2159.3,543.8 2160.3,524.0 2161.2,503.8 2162.2,492.7 2163.3,507.0 2164.4,519.0 2165.7,541.5 2167.0,549.6 2168.0,522.4 2169.0,494.2 2169.9,476.7 2170.9,513.7 2171.9,523.6 2172.8,551.1 2173.8,518.9 2174.8,502.9 2175.8,476.7 2177.5,536.5 2179.3,478.1 2180.2,498.7 2181.2,509.9 2182.2,532.1 2183.3,522.3 2184.5,502.9 2185.8,519.0 2187.0,540.9 2188.1,489.4 2189.2,449.0 2190.2,442.8 2191.1,439.0 2192.1,427.1 2193.3,507.3 2194.5,515.2 2195.7,530.7 2196.7,514.2 2197.7,493.1 2198.7,475.2 2199.8,516.6 2200.9,519.8 2201.9,556.8 2203.0,573.0 2204.3,541.3 2205.5,510.2 2206.6,494.9 2207.8,485.4 2208.9,466.5 2209.8,494.7 2210.8,519.8 2211.8,535.0 2212.9,518.8 2214.0,498.6 2215.7,536.5 2217.0,514.7 2218.4,500.0 2219.4,519.4 2220.5,545.2 2221.6,538.8 2222.7,526.3 2223.9,549.6 2225.1,528.3 2226.4,500.0 2227.4,503.7 2228.3,493.1 2229.3,492.2 2230.3,481.1 2231.4,516.4 2232.6,534.6 2233.7,559.8 2234.8,528.3 2235.9,514.6 2236.9,527.5 2238.0,545.9 2239.1,574.4 2240.2,549.4 2241.3,500.3 2242.4,470.9 2243.3,497.9 2244.2,513.7 2245.2,540.2 2246.1,549.6 2247.0,540.8 2248.0,519.3 2249.0,503.9 2250.0,490.8 2250.9,476.5 2251.9,460.6 2253.0,493.9 2254.1,533.6 2255.2,523.2 2256.3,513.2 2257.2,532.7 2258.1,522.6 2259.0,544.2 2259.9,552.5 2261.0,512.1 2262.1,482.5 2263.1,480.7 2264.2,481.7 2265.2,473.4 2266.2,475.5 2267.2,467.9 2268.3,472.3 2269.4,495.6 2270.5,487.0 2271.6,465.0 2272.6,485.2 2273.5,516.4 2274.5,536.5 2275.6,496.7 2276.7,454.8 2277.7,477.7 2278.6,527.1 2279.6,570.0 2280.7,539.3 2281.8,505.9 2282.9,547.3 2284.0,570.0 2285.3,533.8 2286.6,494.2 2288.4,539.4 2289.3,523.9 2290.3,496.9 2291.3,488.4 2292.4,511.5 2293.5,517.5 2294.6,512.8 2295.7,486.6 2296.8,470.9 2298.6,542.3 2299.7,522.0 2300.8,504.4 2301.9,517.3 2303.0,549.6 2303.9,549.1 2304.9,554.2 2305.9,532.1 2306.8,556.3 2307.8,579.6 2308.8,591.9 2309.7,583.9 2310.6,563.4 2311.5,566.0 2312.4,546.7 2313.6,525.7 2314.7,518.2 2315.8,505.9 2316.8,525.0 2317.8,540.9 2319.1,521.4 2320.5,491.3 2321.5,508.4 2322.6,520.4 2323.9,484.1 2325.1,443.1 2326.1,453.2 2327.0,472.3 2328.1,427.4 2329.2,397.9 2330.7,421.3 2331.6,410.7 2332.5,395.1 2333.4,380.6 2334.3,377.5 2335.4,396.2 2336.5,430.0 2337.6,442.0 2338.7,448.8 2339.8,466.8 2340.9,489.8 2341.8,464.7 2342.7,460.3 2343.6,446.3 2344.5,428.6 2345.5,474.1 2346.4,495.6" fill="none" stroke="#000" stroke-width="3.4" stroke-linejoin="round"/>
<path d="M221.0,988.6 221.6,1011.7 222.2,989.8 222.8,1032.6 223.4,990.6 224.0,1012.1 224.6,986.2 225.2,1010.4 225.8,986.2 226.4,1010.8 227.0,989.1 227.6,1015.5 228.2,990.6 228.8,1011.5 229.4,989.3 230.0,1013.4 230.6,988.1 231.2,1010.3 231.8,989.2 232.4,1011.6 233.0,988.4 233.6,1014.3 234.2,990.8 234.8,1011.9 235.4,987.4 236.0,1010.0 236.6,989.0 237.2,1016.8 237.8,989.7 238.4,1010.7 239.0,990.8 239.6,1010.3 240.2,989.1 240.8,1011.7 241.4,990.4 242.0,1010.8 242.6,987.8 243.2,1012.3 243.8,989.3 244.4,1011.7 245.0,990.6 245.6,1012.9 246.2,990.4 246.8,1011.5 247.4,987.8 248.0,1012.8 248.6,985.0 249.2,1010.1 249.8,991.0 250.4,1014.2 251.0,990.9 251.6,1011.4 252.2,989.2 252.8,1010.2 253.4,990.8 254.0,1014.6 254.6,989.2 255.2,1015.3 255.8,991.1 256.4,1012.6 257.0,991.3 257.6,1013.9 258.2,989.8 258.8,1010.8 259.4,991.1 260.0,1010.9 260.6,988.8 261.2,1014.1 261.8,987.6 262.4,1014.8 263.0,988.7 263.6,1012.4 264.2,990.5 264.8,1013.9 265.4,990.3 266.0,1014.8 266.6,992.4 267.2,1012.0 267.8,990.4 268.4,1016.5 269.0,990.4 269.6,1014.4 270.2,988.1 270.8,1013.0 271.4,992.7 272.0,1015.5 272.6,991.5 273.2,1013.5 273.8,993.3 274.4,1014.5 275.0,991.9 275.6,1012.4 276.2,993.0 276.8,1012.6 277.4,993.3 278.0,1014.9 278.6,991.2 279.2,1013.3 279.8,989.4 280.4,1015.9 281.0,991.5 281.6,1015.3 282.2,993.0 282.8,1012.2 283.4,991.2 284.0,1014.3 284.6,987.8 285.2,1019.6 285.8,993.2 286.4,1012.5 287.0,991.7 287.6,1015.2 288.2,990.4 288.8,1015.0 289.4,992.6 290.0,1012.4 290.6,987.0 291.2,1014.3 291.8,990.7 292.4,1012.2 293.0,992.3 293.6,1016.9 294.2,993.1 294.8,1013.5 295.4,991.5 296.0,1013.1 296.6,989.8 297.2,1015.6 297.8,991.7 298.4,1012.0 299.0,988.4 299.6,1011.6 300.2,992.4 300.8,1013.5 301.4,991.6 302.0,1012.1 302.6,992.1 303.2,1015.6 303.8,987.2 304.4,1012.3 305.0,990.6 305.6,1014.7 306.2,989.7 306.8,1012.7 307.4,990.2 308.0,1010.9 308.6,989.1 309.2,1016.6 309.8,989.2 310.4,1015.1 311.0,991.0 311.6,1009.9 312.2,989.7 312.8,1012.5 313.4,990.0 314.0,1011.3 314.6,990.8 315.2,1013.9 315.8,990.6 316.4,1015.6 317.0,988.4 317.6,1010.4 318.2,989.1 318.8,1011.5 319.4,988.1 320.0,1009.9 320.6,987.5 321.2,1010.6 321.8,986.7 322.4,1009.7 323.0,989.2 323.6,1010.2 324.2,988.2 324.8,1009.8 325.4,986.5 326.0,1010.4 326.6,989.9 327.2,1009.4 327.8,989.0 328.4,1022.6 329.0,988.9 329.6,1015.5 330.2,986.7 330.8,1010.2 331.4,988.9 332.0,1009.4 332.6,973.5 333.2,1009.7 333.8,989.6 334.4,1008.5 335.0,986.2 335.6,1025.3 336.2,987.9 336.8,1008.8 337.4,989.3 338.0,1008.3 338.6,987.8 339.2,1033.5 339.8,986.7 340.4,1010.5 341.0,986.9 341.6,1008.8 342.2,986.1 342.8,1014.3 343.4,987.0 344.0,1022.3 344.6,987.7 345.2,1012.4 345.8,988.6 346.4,1010.2 347.0,988.3 347.6,1018.1 348.2,987.3 348.8,1009.5 349.4,988.3 350.0,1009.5 350.6,987.2 351.2,1012.9 351.8,985.2 352.4,1020.2 353.0,986.8 353.6,1011.5 354.2,987.4 354.8,1010.5 355.4,987.7 356.0,1009.2 356.6,984.6 357.2,1010.4 357.8,988.9 358.4,1009.7 359.0,988.5 359.6,1007.7 360.2,986.4 360.8,1009.1 361.4,988.5 362.0,1008.8 362.6,988.6 363.2,1009.7 363.8,986.3 364.4,1007.9 365.0,988.4 365.6,1011.3 366.2,986.4 366.8,1016.2 367.4,986.2 368.0,1009.1 368.6,987.1 369.2,1011.0 369.8,988.2 370.4,1007.6 371.0,984.3 371.6,1010.6 372.2,988.6 372.8,1009.2 373.4,985.9 374.0,1009.0 374.6,987.1 375.2,1012.8 375.8,985.8 376.4,1007.7 377.0,986.4 377.6,1008.4 378.2,988.2 378.8,1019.0 379.4,982.5 380.0,1008.9 380.6,988.4 381.2,1007.8 381.8,988.3 382.4,1008.6 383.0,987.6 383.6,1010.7 384.2,987.4 384.8,1011.0 385.4,986.0 386.0,1009.8 386.6,987.9 387.2,1010.1 387.8,988.3 388.4,1008.8 389.0,987.6 389.6,1007.4 390.2,986.6 390.8,1008.2 391.4,983.4 392.0,1011.7 392.6,987.9 393.2,1025.3 393.8,985.9 394.4,1024.3 395.0,988.9 395.6,1010.6 396.2,988.9 396.8,1011.8 397.4,987.6 398.0,1010.6 398.6,988.0 399.2,1025.0 399.8,986.6 400.4,1009.2 401.0,986.9 401.6,1008.6 402.2,988.2 402.8,1008.3 403.4,989.3 404.0,1009.8 404.6,987.6 405.2,1013.0 405.8,989.3 406.4,1011.2 407.0,987.2 407.6,1008.8 408.2,987.7 408.8,1015.3 409.4,986.3 410.0,1014.3 410.6,990.1 411.2,1009.7 411.8,986.0 412.4,1010.0 413.0,988.8 413.6,1015.7 414.2,988.2 414.8,1010.4 415.4,990.5 416.0,1017.2 416.6,989.7 417.2,1010.5 417.8,989.8 418.4,1015.8 419.0,989.1 419.6,1010.8 420.2,987.1 420.8,1010.3 421.4,988.5 422.0,1009.8 422.6,989.8 423.2,1010.5 423.8,984.9 424.4,1013.6 425.0,989.1 425.6,1010.3 426.2,989.3 426.8,1010.2 427.4,982.7 428.0,1011.9 428.6,986.9 429.2,1011.4 429.8,983.9 430.4,1011.4 431.0,985.3 431.6,1017.5 432.2,990.3 432.8,1009.4 433.4,990.7 434.0,1012.0 434.6,987.0 435.2,1016.5 435.8,987.0 436.4,1012.3 437.0,988.1 437.6,1013.1 438.2,989.5 438.8,1010.5 439.4,990.4 440.0,1011.3 440.6,990.1 441.2,1010.2 441.8,989.5 442.4,1009.0 443.0,989.5 443.6,1010.6 444.2,989.6 444.8,1009.3 445.4,987.0 446.0,1009.1 446.6,990.1 447.2,1013.9 447.8,987.9 448.4,1011.1 449.0,989.2 449.6,1012.5 450.2,987.1 450.8,1015.0 451.4,989.5 452.0,1012.7 452.6,989.2 453.2,1015.7 453.8,986.9 454.4,1012.9 455.0,989.8 455.6,1013.0 456.2,988.7 456.8,1009.9 457.4,988.1 458.0,1027.5 458.6,989.8 459.2,1013.1 459.8,988.8 460.4,1011.9 461.0,985.8 461.6,1011.3 462.2,986.6 462.8,1011.5 463.4,991.0 464.0,1011.7 464.6,990.4 465.2,1010.5 465.8,990.5 466.4,1023.9 467.0,989.9 467.6,1010.9 468.2,989.0 468.8,1010.3 469.4,989.8 470.0,1010.3 470.6,989.5 471.2,1013.5 471.8,991.0 472.4,1016.1 473.0,973.0 473.6,1014.7 474.2,991.0 474.8,1011.2 475.4,987.9 476.0,1012.7 476.6,990.5 477.2,1014.9 477.8,990.0 478.4,1012.3 479.0,988.7 479.6,1012.4 480.2,987.7 480.8,1016.6 481.4,991.5 482.0,1011.3 482.6,989.9 483.2,1013.7 483.8,992.0 484.4,1013.1 485.0,992.3 485.6,1025.5 486.2,990.6 486.8,1012.6 487.4,990.9 488.0,1013.5 488.6,990.7 489.2,1013.2 489.8,991.7 490.4,1015.4 491.0,990.6 491.6,1022.2 492.2,993.3 492.8,1015.1 493.4,993.2 494.0,1014.8 494.6,993.1 495.2,1012.3 495.8,988.3 496.4,1014.0 497.0,993.2 497.6,1016.2 498.2,992.5 498.8,1012.3 499.4,986.0 500.0,1012.9 500.6,993.3 501.2,1015.8 501.8,992.0 502.4,1014.5 503.0,991.0 503.6,1015.9 504.2,992.7 504.8,1024.9 505.4,993.0 506.0,1013.0 506.6,993.2 507.2,1015.3 507.8,990.0 508.4,1025.4 509.0,989.9 509.6,1013.7 510.2,991.6 510.8,1018.7 511.4,993.4 512.0,1012.9 512.6,993.1 513.2,1013.7 513.8,992.3 514.4,1014.8 515.0,992.9 515.6,1012.0 516.2,992.5 516.8,1021.7 517.4,990.5 518.0,1013.9 518.6,992.3 519.2,1012.2 519.8,991.9 520.4,1012.0 521.0,992.6 521.6,1015.4 522.2,992.1 522.8,1014.1 523.4,992.2 524.0,1015.1 524.6,984.5 525.2,1010.8 525.8,990.9 526.4,1011.8 527.0,991.2 527.6,1013.1 528.2,990.2 528.8,1013.2 529.4,988.4 530.0,1013.1 530.6,991.2 531.2,1011.5 531.8,988.2 532.4,1013.0 533.0,989.9 533.6,1010.5 534.2,988.0 534.8,1011.3 535.4,991.1 536.0,1019.1 536.6,989.8 537.2,1012.1 537.8,989.0 538.4,1010.6 539.0,990.4 539.6,1013.8 540.2,990.1 540.8,1010.0 541.4,989.5 542.0,1011.0 542.6,988.8 543.2,1010.4 543.8,988.5 544.4,1009.6 545.0,987.4 545.6,1009.7 546.2,988.0 546.8,1010.4 547.4,990.0 548.0,1013.7 548.6,987.4 549.2,1011.0 549.8,990.5 550.4,1009.6 551.0,988.8 551.6,1009.3 552.2,988.8 552.8,1011.4 553.4,987.6 554.0,1009.8 554.6,989.2 555.2,1009.1 555.8,983.6 556.4,1010.8 557.0,989.6 557.6,1013.1 558.2,989.5 558.8,1012.1 559.4,988.8 560.0,1012.2 560.6,986.7 561.2,1010.6 561.8,987.9 562.4,1009.9 563.0,987.9 563.6,1013.4 564.2,989.9 564.8,1013.4 565.4,987.7 566.0,1009.6 566.6,986.5 567.2,1011.8 567.8,989.5 568.4,1011.3 569.0,989.3 569.6,1011.2 570.2,989.0 570.8,1010.2 571.4,985.0 572.0,1019.6 572.6,988.5 573.2,1017.1 573.8,988.8 574.4,1014.1 575.0,987.9 575.6,1011.3 576.2,983.0 576.8,1023.4 577.4,989.4 578.0,1012.2 578.6,986.8 579.2,1012.6 579.8,981.6 580.4,1011.9 581.0,985.9 581.6,1018.0 582.2,982.3 582.8,1013.5 583.4,982.5 584.0,1013.6 584.6,982.8 585.2,1017.6 585.8,984.8 586.4,1020.7 587.0,984.0 587.6,1016.1 588.2,983.4 588.8,1015.4 589.4,983.4 590.0,1016.0 590.6,984.9 591.2,1013.5 591.8,987.8 592.4,1022.3 593.0,984.0 593.6,1013.9 594.2,987.5 594.8,1011.2 595.4,988.2 596.0,1013.2 596.6,986.4 597.2,1015.8 597.8,984.8 598.4,1011.0 599.0,990.3 599.6,1012.9 600.2,990.8 600.8,1010.5 601.4,988.3 602.0,1020.3 602.6,988.4 603.2,1010.1 603.8,987.5 604.4,1010.1 605.0,988.5 605.6,1015.3 606.2,987.1 606.8,1011.9 607.4,988.1 608.0,1010.5 608.6,990.8 609.2,1018.9 609.8,984.4 610.4,1011.3 611.0,989.1 611.6,1014.5 612.2,987.3 612.8,1017.2 613.4,985.7 614.0,1018.7 614.6,985.6 615.2,1026.1 615.8,980.6 616.4,1018.9 617.0,966.5 617.6,1019.0 618.2,975.5 618.8,1022.5 619.4,979.4 620.0,1036.3 620.6,974.7 621.2,1028.2 621.8,973.8 622.4,1033.7 623.0,978.2 623.6,1033.1 624.2,977.4 624.8,1027.7 625.4,971.2 626.0,1027.7 626.6,974.2 627.2,1029.8 627.8,975.2 628.4,1025.1 629.0,980.5 629.6,1026.9 630.2,979.7 630.8,1022.7 631.4,985.5 632.0,1021.4 632.6,985.8 633.2,1022.0 633.8,988.2 634.4,1019.9 635.0,987.4 635.6,1018.1 636.2,986.8 636.8,1015.5 637.4,989.3 638.0,1017.2 638.6,987.6 639.2,1020.5 639.8,987.2 640.4,1015.6 641.0,986.3 641.6,1021.0 642.2,980.5 642.8,1044.9 643.4,983.0 644.0,1020.8 644.6,982.9 645.2,1043.8 645.8,977.9 646.4,1031.6 647.0,981.0 647.6,1032.9 648.2,957.1 648.8,1047.2 649.4,971.0 650.0,1033.2 650.6,965.8 651.2,1028.8 651.8,978.1 652.4,1031.7 653.0,978.4 653.6,1036.3 654.2,975.8 654.8,1030.3 655.4,968.5 656.0,1029.2 656.6,978.1 657.2,1032.2 657.8,977.1 658.4,1023.4 659.0,974.2 659.6,1026.6 660.2,982.1 660.8,1017.5 661.4,980.6 662.0,1021.0 662.6,982.1 663.2,1018.1 663.8,984.8 664.4,1017.1 665.0,986.1 665.6,1016.7 666.2,987.3 666.8,1014.0 667.4,989.0 668.0,1026.5 668.6,989.0 669.2,1012.0 669.8,988.7 670.4,1010.2 671.0,985.5 671.6,1011.7 672.2,986.9 672.8,1009.6 673.4,986.9 674.0,1008.7 674.6,989.7 675.2,1010.5 675.8,989.4 676.4,1011.3 677.0,987.7 677.6,1011.8 678.2,987.0 678.8,1012.0 679.4,986.7 680.0,1010.9 680.6,985.4 681.2,1010.6 681.8,988.1 682.4,1010.0 683.0,984.6 683.6,1016.1 684.2,985.4 684.8,1012.5 685.4,984.6 686.0,1022.0 686.6,983.1 687.2,1036.5 687.8,970.4 688.4,1050.5 689.0,980.3 689.6,1022.5 690.2,982.3 690.8,1033.6 691.4,977.1 692.0,1019.0 692.6,979.0 693.2,1015.1 693.8,984.2 694.4,1020.4 695.0,985.7 695.6,1016.6 696.2,982.9 696.8,1015.3 697.4,986.1 698.0,1014.0 698.6,984.6 699.2,1013.3 699.8,986.7 700.4,1011.1 701.0,988.8 701.6,1010.0 702.2,989.9 702.8,1012.6 703.4,987.5 704.0,1010.6 704.6,988.0 705.2,1010.3 705.8,988.5 706.4,1009.3 707.0,990.1 707.6,1014.5 708.2,990.1 708.8,1011.3 709.4,984.6 710.0,1013.1 710.6,990.6 711.2,1011.4 711.8,989.9 712.4,1011.6 713.0,984.6 713.6,1011.2 714.2,989.9 714.8,1013.3 715.4,990.1 716.0,1013.0 716.6,989.0 717.2,1012.9 717.8,990.5 718.4,1010.0 719.0,990.4 719.6,1013.1 720.2,989.5 720.8,1011.0 721.4,989.9 722.0,1012.2 722.6,988.2 723.2,1013.2 723.8,990.9 724.4,1010.4 725.0,990.9 725.6,1012.2 726.2,987.8 726.8,1010.0 727.4,988.1 728.0,1011.9 728.6,986.9 729.2,1011.6 729.8,991.2 730.4,1010.7 731.0,989.6 731.6,1011.2 732.2,985.9 732.8,1009.9 733.4,985.6 734.0,1013.3 734.6,991.1 735.2,1009.6 735.8,989.0 736.4,1014.9 737.0,988.6 737.6,1010.7 738.2,990.0 738.8,1012.6 739.4,990.1 740.0,1013.2 740.6,987.2 741.2,1013.9 741.8,980.6 742.4,1009.8 743.0,988.9 743.6,1021.5 744.2,988.4 744.8,1014.4 745.4,987.8 746.0,1009.3 746.6,987.9 747.2,1011.3 747.8,990.0 748.4,1010.7 749.0,990.5 749.6,1022.5 750.2,989.3 750.8,1009.2 751.4,987.9 752.0,1017.3 752.6,987.0 753.2,1012.9 753.8,989.1 754.4,1011.2 755.0,988.2 755.6,1011.5 756.2,989.8 756.8,1012.5 757.4,989.3 758.0,1009.9 758.6,989.6 759.2,1010.6 759.8,987.5 760.4,1014.6 761.0,987.8 761.6,1014.7 762.2,987.9 762.8,1012.5 763.4,989.3 764.0,1017.1 764.6,987.2 765.2,1011.1 765.8,988.2 766.4,1009.6 767.0,990.4 767.6,1013.6 768.2,990.4 768.8,1009.7 769.4,988.2 770.0,1010.1 770.6,987.7 771.2,1009.8 771.8,988.4 772.4,1010.6 773.0,987.4 773.6,1010.9 774.2,990.3 774.8,1011.0 775.4,989.7 776.0,1011.0 776.6,980.2 777.2,1012.5 777.8,990.6 778.4,1010.5 779.0,990.0 779.6,1015.0 780.2,990.6 780.8,1010.0 781.4,987.2 782.0,1011.7 782.6,989.9 783.2,1014.1 783.8,988.8 784.4,1013.3 785.0,989.8 785.6,1012.5 786.2,988.5 786.8,1009.7 787.4,981.6 788.0,1011.4 788.6,990.4 789.2,1012.7 789.8,990.5 790.4,1016.8 791.0,990.4 791.6,1009.5 792.2,990.1 792.8,1010.7 793.4,988.3 794.0,1009.5 794.6,989.7 795.2,1012.1 795.8,976.5 796.4,1010.0 797.0,988.9 797.6,1012.1 798.2,990.1 798.8,1011.4 799.4,989.1 800.0,1012.9 800.6,988.5 801.2,1010.7 801.8,989.4 802.4,1010.1 803.0,988.4 803.6,1010.8 804.2,989.6 804.8,1016.4 805.4,988.3 806.0,1009.2 806.6,988.9 807.2,1012.0 807.8,987.5 808.4,1009.5 809.0,987.2 809.6,1010.1 810.2,988.5 810.8,1012.7 811.4,988.1 812.0,1013.0 812.6,989.3 813.2,1012.0 813.8,987.2 814.4,1012.5 815.0,984.0 815.6,1010.1 816.2,987.1 816.8,1010.9 817.4,990.1 818.0,1009.6 818.6,986.9 819.2,1009.4 819.8,985.7 820.4,1016.1 821.0,989.4 821.6,1020.9 822.2,987.7 822.8,1010.6 823.4,989.7 824.0,1010.9 824.6,984.4 825.2,1011.4 825.8,989.8 826.4,1020.8 827.0,987.5 827.6,1010.2 828.2,990.0 828.8,1009.9 829.4,989.2 830.0,1010.1 830.6,986.7 831.2,1011.7 831.8,989.1 832.4,1010.9 833.0,989.5 833.6,1011.0 834.2,988.5 834.8,1014.9 835.4,989.4 836.0,1011.3 836.6,987.2 837.2,1013.2 837.8,989.1 838.4,1009.9 839.0,983.2 839.6,1032.0 840.2,989.1 840.8,1011.2 841.4,990.2 842.0,1016.2 842.6,990.9 843.2,1011.9 843.8,986.8 844.4,1014.2 845.0,987.8 845.6,1010.2 846.2,989.6 846.8,1014.2 847.4,990.5 848.0,1010.4 848.6,987.6 849.2,1010.2 849.8,990.8 850.4,1012.3 851.0,985.9 851.6,1011.9 852.2,987.2 852.8,1011.1 853.4,991.3 854.0,1013.1 854.6,988.5 855.2,1012.7 855.8,990.2 856.4,1013.5 857.0,989.6 857.6,1010.2 858.2,990.3 858.8,1011.6 859.4,978.4 860.0,1010.6 860.6,989.1 861.2,1010.7 861.8,988.4 862.4,1011.2 863.0,986.6 863.6,1011.3 864.2,990.0 864.8,1011.6 865.4,991.0 866.0,1018.2 866.6,989.4 867.2,1009.9 867.8,988.1 868.4,1029.5 869.0,985.9 869.6,1012.3 870.2,990.7 870.8,1016.2 871.4,989.9 872.0,1012.0 872.6,991.0 873.2,1012.1 873.8,988.0 874.4,1013.1 875.0,989.1 875.6,1011.6 876.2,988.3 876.8,1011.6 877.4,990.3 878.0,1012.5 878.6,990.3 879.2,1011.4 879.8,989.6 880.4,1010.4 881.0,985.3 881.6,1011.8 882.2,988.9 882.8,1012.0 883.4,991.1 884.0,1016.3 884.6,987.4 885.2,1011.3 885.8,989.9 886.4,1013.6 887.0,988.0 887.6,1011.1 888.2,989.2 888.8,1015.3 889.4,990.6 890.0,1010.7 890.6,991.1 891.2,1010.1 891.8,990.2 892.4,1013.3 893.0,987.7 893.6,1012.8 894.2,991.3 894.8,1011.3 895.4,986.6 896.0,1010.7 896.6,986.4 897.2,1021.8 897.8,989.1 898.4,1013.1 899.0,991.7 899.6,1015.8 900.2,989.9 900.8,1013.3 901.4,990.9 902.0,1011.8 902.6,986.4 903.2,1012.8 903.8,988.5 904.4,1013.6 905.0,991.6 905.6,1010.5 906.2,990.8 906.8,1010.6 907.4,991.4 908.0,1014.3 908.6,977.2 909.2,1012.3 909.8,987.2 910.4,1011.1 911.0,990.1 911.6,1012.1 912.2,987.4 912.8,1012.6 913.4,991.0 914.0,1015.3 914.6,990.3 915.2,1014.6 915.8,989.2 916.4,1016.7 917.0,989.5 917.6,1012.0 918.2,986.3 918.8,1012.3 919.4,989.8 920.0,1011.1 920.6,991.3 921.2,1011.2 921.8,990.4 922.4,1012.6 923.0,990.9 923.6,1011.4 924.2,989.8 924.8,1011.6 925.4,987.6 926.0,1012.7 926.6,992.1 927.2,1012.3 927.8,990.5 928.4,1013.3 929.0,989.5 929.6,1012.4 930.2,991.0 930.8,1016.4 931.4,992.2 932.0,1015.7 932.6,990.1 933.2,1012.4 933.8,992.2 934.4,1011.1 935.0,990.6 935.6,1011.3 936.2,990.7 936.8,1011.0 937.4,987.9 938.0,1011.3 938.6,990.9 939.2,1014.1 939.8,989.9 940.4,1011.4 941.0,990.1 941.6,1013.2 942.2,991.0 942.8,1012.2 943.4,991.7 944.0,1012.8 944.6,992.7 945.2,1019.1 945.8,991.6 946.4,1015.8 947.0,991.5 947.6,1013.4 948.2,992.3 948.8,1011.7 949.4,992.5 950.0,1013.5 950.6,991.2 951.2,1011.9 951.8,992.1 952.4,1012.9 953.0,991.9 953.6,1016.1 954.2,990.5 954.8,1013.4 955.4,992.2 956.0,1012.5 956.6,993.0 957.2,1013.8 957.8,990.6 958.4,1013.4 959.0,992.6 959.6,1016.6 960.2,992.0 960.8,1011.8 961.4,989.1 962.0,1017.3 962.6,991.8 963.2,1015.1 963.8,990.7 964.4,1014.0 965.0,993.2 965.6,1011.8 966.2,991.8 966.8,1022.0 967.4,992.6 968.0,1015.4 968.6,989.6 969.2,1014.4 969.8,988.7 970.4,1016.0 971.0,988.8 971.6,1014.9 972.2,991.5 972.8,1011.8 973.4,991.1 974.0,1016.3 974.6,990.6 975.2,1015.0 975.8,988.7 976.4,1016.0 977.0,988.8 977.6,1013.1 978.2,989.1 978.8,1011.6 979.4,991.4 980.0,1010.6 980.6,990.2 981.2,1011.0 981.8,990.2 982.4,1012.5 983.0,989.3 983.6,1010.3 984.2,990.7 984.8,1012.1 985.4,991.0 986.0,1009.9 986.6,988.3 987.2,1013.4 987.8,990.6 988.4,1029.5 989.0,985.6 989.6,1014.9 990.2,988.3 990.8,1018.6 991.4,985.5 992.0,1009.6 992.6,986.3 993.2,1013.6 993.8,989.6 994.4,1009.0 995.0,987.3 995.6,1012.6 996.2,987.0 996.8,1008.9 997.4,988.4 998.0,1009.3 998.6,988.3 999.2,1010.7 999.8,985.9 1000.4,1008.3 1001.0,989.1 1001.6,1009.5 1002.2,987.3 1002.8,1008.6 1003.4,989.0 1004.0,1020.4 1004.6,989.2 1005.2,1010.3 1005.8,985.9 1006.4,1009.8 1007.0,987.0 1007.6,1011.7 1008.2,986.0 1008.8,1009.6 1009.4,988.0 1010.0,1009.8 1010.6,984.3 1011.2,1013.0 1011.8,988.1 1012.4,1009.7 1013.0,986.4 1013.6,1011.7 1014.2,988.0 1014.8,1014.0 1015.4,981.8 1016.0,1008.6 1016.6,987.7 1017.2,1012.0 1017.8,989.1 1018.4,1009.8 1019.0,985.8 1019.6,1012.6 1020.2,989.3 1020.8,1019.7 1021.4,987.4 1022.0,1011.2 1022.6,985.9 1023.2,1013.3 1023.8,987.8 1024.4,1008.3 1025.0,989.4 1025.6,1010.8 1026.2,988.9 1026.8,1012.5 1027.4,975.6 1028.0,1010.0 1028.6,986.4 1029.2,1010.5 1029.8,987.5 1030.4,1015.0 1031.0,988.6 1031.6,1009.8 1032.2,983.6 1032.8,1011.1 1033.4,989.6 1034.0,1014.4 1034.6,989.1 1035.2,1011.7 1035.8,985.5 1036.4,1011.7 1037.0,990.0 1037.6,1010.1 1038.2,989.5 1038.8,1013.8 1039.4,978.3 1040.0,1021.0 1040.6,989.0 1041.2,1009.3 1041.8,987.5 1042.4,1010.1 1043.0,987.9 1043.6,1013.4 1044.2,988.9 1044.8,1011.7 1045.4,987.7 1046.0,1022.0 1046.6,990.1 1047.2,1010.7 1047.8,988.7 1048.4,1011.0 1049.0,986.4 1049.6,1013.9 1050.2,987.2 1050.8,1011.2 1051.4,989.6 1052.0,1008.9 1052.6,990.0 1053.2,1011.2 1053.8,986.3 1054.4,1018.8 1055.0,986.6 1055.6,1011.6 1056.2,989.3 1056.8,1012.4 1057.4,989.6 1058.0,1011.8 1058.6,989.5 1059.2,1009.4 1059.8,989.8 1060.4,1022.9 1061.0,985.2 1061.6,1012.4 1062.2,987.5 1062.8,1012.5 1063.4,989.9 1064.0,1009.1 1064.6,988.7 1065.2,1009.8 1065.8,984.0 1066.4,1008.8 1067.0,971.5 1067.6,1012.0 1068.2,986.5 1068.8,1031.4 1069.4,986.2 1070.0,1023.0 1070.6,988.3 1071.2,1008.4 1071.8,987.8 1072.4,1009.2 1073.0,989.3 1073.6,1008.5 1074.2,988.8 1074.8,1011.5 1075.4,984.6 1076.0,1009.3 1076.6,985.6 1077.2,1012.3 1077.8,987.8 1078.4,1009.8 1079.0,987.8 1079.6,1011.1 1080.2,984.4 1080.8,1012.3 1081.4,989.8 1082.0,1010.8 1082.6,986.5 1083.2,1017.7 1083.8,989.7 1084.4,1012.6 1085.0,988.1 1085.6,1012.4 1086.2,988.6 1086.8,1013.1 1087.4,989.5 1088.0,1013.4 1088.6,990.2 1089.2,1009.9 1089.8,989.6 1090.4,1011.9 1091.0,989.1 1091.6,1014.4 1092.2,988.2 1092.8,1009.7 1093.4,989.9 1094.0,1009.7 1094.6,989.9 1095.2,1017.0 1095.8,989.8 1096.4,1013.8 1097.0,989.1 1097.6,1010.6 1098.2,988.6 1098.8,1011.2 1099.4,989.6 1100.0,1010.8 1100.6,986.8 1101.2,1011.8 1101.8,989.4 1102.4,1011.9 1103.0,981.7 1103.6,1010.7 1104.2,990.0 1104.8,1012.4 1105.4,986.7 1106.0,1010.8 1106.6,986.6 1107.2,1013.8 1107.8,989.5 1108.4,1015.9 1109.0,990.6 1109.6,1010.1 1110.2,990.8 1110.8,1011.0 1111.4,986.1 1112.0,1011.9 1112.6,989.1 1113.2,1010.7 1113.8,990.3 1114.4,1011.7 1115.0,986.8 1115.6,1015.0 1116.2,989.8 1116.8,1010.9 1117.4,987.8 1118.0,1013.4 1118.6,989.7 1119.2,1012.6 1119.8,986.5 1120.4,1013.9 1121.0,986.5 1121.6,1011.7 1122.2,978.3 1122.8,1011.0 1123.4,980.0 1124.0,1011.7 1124.6,989.3 1125.2,1018.9 1125.8,988.1 1126.4,1012.6 1127.0,987.9 1127.6,1010.0 1128.2,989.8 1128.8,1010.2 1129.4,989.1 1130.0,1022.5 1130.6,990.7 1131.2,1010.7 1131.8,988.3 1132.4,1010.7 1133.0,989.8 1133.6,1010.8 1134.2,990.4 1134.8,1009.8 1135.4,989.2 1136.0,1011.9 1136.6,990.1 1137.2,1009.5 1137.8,989.4 1138.4,1013.0 1139.0,988.6 1139.6,1012.0 1140.2,986.1 1140.8,1011.7 1141.4,989.9 1142.0,1012.1 1142.6,989.4 1143.2,1009.3 1143.8,987.2 1144.4,1011.3 1145.0,987.3 1145.6,1010.1 1146.2,987.6 1146.8,1009.1 1147.4,989.7 1148.0,1008.9 1148.6,987.1 1149.2,1009.0 1149.8,987.3 1150.4,1017.4 1151.0,989.6 1151.6,1011.7 1152.2,988.5 1152.8,1010.7 1153.4,986.3 1154.0,1024.4 1154.6,985.9 1155.2,1011.6 1155.8,987.8 1156.4,1011.5 1157.0,986.5 1157.6,1011.6 1158.2,988.4 1158.8,1011.5 1159.4,987.9 1160.0,1023.4 1160.6,988.6 1161.2,1009.3 1161.8,988.9 1162.4,1011.5 1163.0,979.0 1163.6,1011.1 1164.2,989.0 1164.8,1010.3 1165.4,986.5 1166.0,1021.0 1166.6,986.9 1167.2,1010.2 1167.8,985.8 1168.4,1010.0 1169.0,982.5 1169.6,1010.8 1170.2,987.5 1170.8,1011.5 1171.4,985.4 1172.0,1012.6 1172.6,987.6 1173.2,1010.3 1173.8,986.4 1174.4,1009.6 1175.0,988.4 1175.6,1009.6 1176.2,989.2 1176.8,1010.2 1177.4,986.3 1178.0,1011.4 1178.6,988.6 1179.2,1010.3 1179.8,985.4 1180.4,1008.9 1181.0,988.6 1181.6,1009.2 1182.2,987.0 1182.8,1010.0 1183.4,984.8 1184.0,1012.3 1184.6,984.3 1185.2,1011.1 1185.8,989.8 1186.4,1012.0 1187.0,976.0 1187.6,1013.0" fill="none" stroke="#000" stroke-width="2.2"/>
<path d="M280.8,953.8L280.8,1128.8M303.6,970.5L303.6,1012.0M376.3,950.6L376.3,1132.8M459.5,978.0L459.5,1015.0M490.2,959.0L490.2,1135.5M533.2,958.7L533.2,1136.9M584.4,953.8L584.4,1131.5M590.3,965.0L590.3,1123.4M620.7,952.5L620.7,1120.7M623.2,941.0L623.2,1069.6M625.3,955.0L625.3,1136.9M628.5,936.3L628.5,1032.0M647.4,971.0L647.4,1122.0M651.7,956.5L651.7,1138.2M657.0,953.8L657.0,1125.6M684.5,990.0L684.5,1125.0M689.4,944.4L689.4,1115.3M695.3,947.0L695.3,1122.0M949.5,964.6L949.5,1135.5M1072.3,968.6L1072.3,1136.3" fill="none" stroke="#000" stroke-width="3"/>
<path d="M1379.4,997.2 1380.0,1020.9 1380.6,998.1 1381.2,1019.3 1381.8,997.8 1382.4,1019.0 1383.0,999.3 1383.6,1019.1 1384.2,998.8 1384.8,1022.2 1385.4,997.6 1386.0,1021.0 1386.6,997.3 1387.2,1020.8 1387.8,999.9 1388.4,1020.6 1389.0,996.6 1389.6,1024.6 1390.2,997.8 1390.8,1019.4 1391.4,989.9 1392.0,1021.0 1392.6,993.6 1393.2,1021.6 1393.8,999.3 1394.4,1023.6 1395.0,999.9 1395.6,1022.7 1396.2,997.9 1396.8,1020.2 1397.4,1000.0 1398.0,1023.8 1398.6,999.9 1399.2,1019.6 1399.8,999.1 1400.4,1022.2 1401.0,997.1 1401.6,1018.8 1402.2,999.4 1402.8,1023.0 1403.4,995.9 1404.0,1022.6 1404.6,997.7 1405.2,1020.9 1405.8,995.7 1406.4,1021.9 1407.0,995.2 1407.6,1020.0 1408.2,997.3 1408.8,1020.2 1409.4,999.7 1410.0,1019.4 1410.6,995.2 1411.2,1020.5 1411.8,994.8 1412.4,1024.5 1413.0,997.0 1413.6,1020.7 1414.2,999.2 1414.8,1019.5 1415.4,994.9 1416.0,1022.3 1416.6,995.4 1417.2,1019.8 1417.8,996.6 1418.4,1022.3 1419.0,999.2 1419.6,1020.3 1420.2,992.5 1420.8,1019.1 1421.4,997.7 1422.0,1019.7 1422.6,999.0 1423.2,1018.7 1423.8,998.8 1424.4,1018.7 1425.0,999.2 1425.6,1029.4 1426.2,998.1 1426.8,1022.4 1427.4,994.9 1428.0,1018.2 1428.6,997.5 1429.2,1020.0 1429.8,997.8 1430.4,1018.5 1431.0,998.0 1431.6,1017.6 1432.2,997.7 1432.8,1022.3 1433.4,996.3 1434.0,1017.1 1434.6,994.1 1435.2,1017.2 1435.8,995.7 1436.4,1025.8 1437.0,994.8 1437.6,1029.2 1438.2,994.4 1438.8,1017.1 1439.4,997.5 1440.0,1019.7 1440.6,993.5 1441.2,1019.2 1441.8,996.0 1442.4,1027.2 1443.0,996.0 1443.6,1036.8 1444.2,997.5 1444.8,1017.4 1445.4,997.2 1446.0,1018.9 1446.6,995.1 1447.2,1016.2 1447.8,996.1 1448.4,1018.2 1449.0,995.2 1449.6,1020.3 1450.2,995.8 1450.8,1016.1 1451.4,995.1 1452.0,1021.0 1452.6,990.9 1453.2,1015.8 1453.8,993.2 1454.4,1016.4 1455.0,994.7 1455.6,1022.2 1456.2,994.1 1456.8,1016.5 1457.4,995.1 1458.0,1019.0 1458.6,995.4 1459.2,1017.0 1459.8,994.5 1460.4,1020.4 1461.0,996.4 1461.6,1019.6 1462.2,992.0 1462.8,1017.1 1463.4,996.2 1464.0,1035.6 1464.6,994.7 1465.2,1021.8 1465.8,995.5 1466.4,1016.3 1467.0,996.7 1467.6,1017.2 1468.2,997.0 1468.8,1017.8 1469.4,982.2 1470.0,1030.4 1470.6,996.4 1471.2,1017.5 1471.8,993.2 1472.4,1017.2 1473.0,994.3 1473.6,1028.5 1474.2,992.7 1474.8,1017.7 1475.4,995.6 1476.0,1020.1 1476.6,998.1 1477.2,1017.6 1477.8,998.3 1478.4,1019.8 1479.0,999.0 1479.6,1019.5 1480.2,989.7 1480.8,1018.3 1481.4,997.8 1482.0,1023.2 1482.6,996.0 1483.2,1019.6 1483.8,999.3 1484.4,1020.1 1485.0,998.5 1485.6,1021.5 1486.2,999.3 1486.8,1020.6 1487.4,994.9 1488.0,1026.2 1488.6,998.9 1489.2,1022.6 1489.8,999.2 1490.4,1019.2 1491.0,994.8 1491.6,1021.7 1492.2,1000.4 1492.8,1034.9 1493.4,997.3 1494.0,1019.5 1494.6,1000.1 1495.2,1019.5 1495.8,996.6 1496.4,1020.4 1497.0,996.8 1497.6,1020.5 1498.2,998.6 1498.8,1019.6 1499.4,996.5 1500.0,1020.8 1500.6,997.9 1501.2,1020.4 1501.8,1000.3 1502.4,1022.2 1503.0,1000.5 1503.6,1023.0 1504.2,996.3 1504.8,1020.9 1505.4,998.7 1506.0,1020.5 1506.6,997.7 1507.2,1020.6 1507.8,999.4 1508.4,1020.7 1509.0,999.4 1509.6,1025.7 1510.2,997.2 1510.8,1021.5 1511.4,997.7 1512.0,1019.7 1512.6,997.5 1513.2,1023.8 1513.8,999.1 1514.4,1021.0 1515.0,998.6 1515.6,1020.4 1516.2,998.7 1516.8,1018.8 1517.4,998.4 1518.0,1019.9 1518.6,998.2 1519.2,1018.1 1519.8,997.0 1520.4,1021.2 1521.0,998.1 1521.6,1018.3 1522.2,997.2 1522.8,1019.3 1523.4,992.7 1524.0,1019.2 1524.6,995.5 1525.2,1019.4 1525.8,997.0 1526.4,1020.3 1527.0,995.8 1527.6,1021.2 1528.2,998.2 1528.8,1019.4 1529.4,996.2 1530.0,1018.5 1530.6,993.8 1531.2,1021.4 1531.8,997.4 1532.4,1019.2 1533.0,998.4 1533.6,1017.7 1534.2,992.9 1534.8,1017.1 1535.4,997.7 1536.0,1027.7 1536.6,996.5 1537.2,1017.8 1537.8,993.3 1538.4,1018.1 1539.0,997.6 1539.6,1018.8 1540.2,994.7 1540.8,1018.4 1541.4,992.7 1542.0,1020.2 1542.6,994.4 1543.2,1018.3 1543.8,995.6 1544.4,1017.0 1545.0,997.6 1545.6,1018.7 1546.2,990.4 1546.8,1019.9 1547.4,995.7 1548.0,1018.1 1548.6,998.0 1549.2,1019.1 1549.8,990.0 1550.4,1019.1 1551.0,997.6 1551.6,1018.8 1552.2,997.7 1552.8,1019.3 1553.4,991.7 1554.0,1020.4 1554.6,997.2 1555.2,1017.2 1555.8,995.5 1556.4,1019.0 1557.0,989.7 1557.6,1018.6 1558.2,997.3 1558.8,1019.7 1559.4,998.0 1560.0,1018.2 1560.6,997.1 1561.2,1019.3 1561.8,995.2 1562.4,1019.9 1563.0,996.7 1563.6,1018.0 1564.2,994.2 1564.8,1024.1 1565.4,994.4 1566.0,1017.6 1566.6,997.4 1567.2,1018.3 1567.8,991.2 1568.4,1019.7 1569.0,996.4 1569.6,1019.6 1570.2,996.4 1570.8,1017.4 1571.4,996.3 1572.0,1019.1 1572.6,992.4 1573.2,1019.1 1573.8,995.1 1574.4,1018.0 1575.0,992.8 1575.6,1019.3 1576.2,996.0 1576.8,1017.8 1577.4,997.9 1578.0,1025.6 1578.6,997.9 1579.2,1018.3 1579.8,997.0 1580.4,1022.7 1581.0,995.3 1581.6,1019.7 1582.2,998.2 1582.8,1018.7 1583.4,997.4 1584.0,1021.5 1584.6,998.0 1585.2,1021.8 1585.8,996.7 1586.4,1017.8 1587.0,998.1 1587.6,1020.2 1588.2,994.5 1588.8,1018.8 1589.4,996.5 1590.0,1023.2 1590.6,994.4 1591.2,1017.5 1591.8,997.8 1592.4,1020.9 1593.0,998.0 1593.6,1021.2 1594.2,998.6 1594.8,1017.2 1595.4,994.2 1596.0,1018.1 1596.6,995.0 1597.2,1020.4 1597.8,997.0 1598.4,1019.6 1599.0,998.0 1599.6,1021.2 1600.2,993.2 1600.8,1017.4 1601.4,997.1 1602.0,1035.5 1602.6,997.3 1603.2,1023.2 1603.8,997.2 1604.4,1017.6 1605.0,996.4 1605.6,1018.2 1606.2,996.7 1606.8,1022.0 1607.4,993.4 1608.0,1019.5 1608.6,995.1 1609.2,1020.7 1609.8,998.5 1610.4,1017.6 1611.0,997.0 1611.6,1019.9 1612.2,996.0 1612.8,1025.0 1613.4,995.4 1614.0,1020.2 1614.6,996.7 1615.2,1021.3 1615.8,991.6 1616.4,1017.7 1617.0,997.7 1617.6,1021.7 1618.2,998.3 1618.8,1025.1 1619.4,997.0 1620.0,1019.1 1620.6,996.4 1621.2,1022.9 1621.8,992.6 1622.4,1019.7 1623.0,994.2 1623.6,1018.9 1624.2,997.6 1624.8,1025.3 1625.4,997.2 1626.0,1020.7 1626.6,984.0 1627.2,1021.1 1627.8,995.4 1628.4,1023.6 1629.0,996.0 1629.6,1021.5 1630.2,993.4 1630.8,1019.5 1631.4,995.6 1632.0,1018.5 1632.6,996.8 1633.2,1021.4 1633.8,997.3 1634.4,1020.7 1635.0,994.6 1635.6,1049.5 1636.2,996.2 1636.8,1022.5 1637.4,994.7 1638.0,1019.8 1638.6,998.3 1639.2,1024.6 1639.8,996.3 1640.4,1021.2 1641.0,997.8 1641.6,1019.4 1642.2,993.4 1642.8,1018.0 1643.4,997.0 1644.0,1026.9 1644.6,998.6 1645.2,1019.2 1645.8,995.0 1646.4,1017.6 1647.0,997.3 1647.6,1021.2 1648.2,997.7 1648.8,1021.1 1649.4,997.6 1650.0,1018.1 1650.6,998.9 1651.2,1021.8 1651.8,994.5 1652.4,1020.5 1653.0,993.3 1653.6,1018.2 1654.2,998.0 1654.8,1017.5 1655.4,998.1 1656.0,1018.3 1656.6,998.7 1657.2,1019.3 1657.8,994.4 1658.4,1018.6 1659.0,996.2 1659.6,1020.0 1660.2,987.9 1660.8,1017.5 1661.4,997.0 1662.0,1020.9 1662.6,995.9 1663.2,1017.9 1663.8,998.7 1664.4,1022.7 1665.0,997.8 1665.6,1019.7 1666.2,997.6 1666.8,1018.5 1667.4,996.5 1668.0,1023.3 1668.6,994.4 1669.2,1019.6 1669.8,992.6 1670.4,1018.0 1671.0,985.0 1671.6,1022.9 1672.2,995.7 1672.8,1022.4 1673.4,993.6 1674.0,1020.2 1674.6,991.8 1675.2,1021.9 1675.8,998.9 1676.4,1031.7 1677.0,998.9 1677.6,1022.8 1678.2,996.9 1678.8,1020.4 1679.4,997.8 1680.0,1030.3 1680.6,997.9 1681.2,1020.4 1681.8,998.5 1682.4,1023.1 1683.0,999.1 1683.6,1018.9 1684.2,994.1 1684.8,1025.5 1685.4,998.8 1686.0,1021.8 1686.6,996.4 1687.2,1025.6 1687.8,999.5 1688.4,1018.9 1689.0,999.3 1689.6,1018.9 1690.2,998.6 1690.8,1026.8 1691.4,999.0 1692.0,1024.7 1692.6,998.4 1693.2,1023.1 1693.8,996.7 1694.4,1020.9 1695.0,997.9 1695.6,1019.5 1696.2,998.7 1696.8,1034.7 1697.4,999.8 1698.0,1019.5 1698.6,997.0 1699.2,1023.3 1699.8,999.0 1700.4,1022.6 1701.0,997.0 1701.6,1024.9 1702.2,999.0 1702.8,1019.6 1703.4,996.9 1704.0,1020.1 1704.6,998.9 1705.2,1020.3 1705.8,997.3 1706.4,1029.5 1707.0,995.9 1707.6,1021.7 1708.2,999.9 1708.8,1019.9 1709.4,994.3 1710.0,1020.7 1710.6,997.5 1711.2,1034.2 1711.8,994.8 1712.4,1019.5 1713.0,999.2 1713.6,1044.6 1714.2,994.3 1714.8,1018.8 1715.4,997.5 1716.0,1019.8 1716.6,996.2 1717.2,1018.9 1717.8,999.5 1718.4,1020.1 1719.0,997.4 1719.6,1028.1 1720.2,997.1 1720.8,1023.2 1721.4,998.7 1722.0,1020.4 1722.6,997.6 1723.2,1018.4 1723.8,998.0 1724.4,1020.2 1725.0,998.4 1725.6,1036.9 1726.2,998.9 1726.8,1018.8 1727.4,996.5 1728.0,1018.5 1728.6,995.3 1729.2,1020.5 1729.8,994.9 1730.4,1028.1 1731.0,997.4 1731.6,1018.5 1732.2,998.4 1732.8,1020.2 1733.4,998.3 1734.0,1019.9 1734.6,997.5 1735.2,1019.7 1735.8,996.0 1736.4,1020.8 1737.0,994.3 1737.6,1022.5 1738.2,993.7 1738.8,1025.2 1739.4,989.9 1740.0,1033.6 1740.6,989.0 1741.2,1025.8 1741.8,989.7 1742.4,1028.6 1743.0,989.4 1743.6,1031.7 1744.2,987.0 1744.8,1035.9 1745.4,990.9 1746.0,1032.8 1746.6,983.6 1747.2,1031.4 1747.8,985.0 1748.4,1050.2 1749.0,992.1 1749.6,1027.9 1750.2,993.1 1750.8,1030.7 1751.4,995.8 1752.0,1032.4 1752.6,995.7 1753.2,1023.1 1753.8,995.1 1754.4,1021.1 1755.0,995.3 1755.6,1023.4 1756.2,999.1 1756.8,1023.7 1757.4,998.8 1758.0,1022.1 1758.6,996.1 1759.2,1022.6 1759.8,999.0 1760.4,1022.3 1761.0,997.2 1761.6,1026.8 1762.2,997.9 1762.8,1024.1 1763.4,997.7 1764.0,1039.9 1764.6,994.5 1765.2,1028.6 1765.8,993.7 1766.4,1042.3 1767.0,990.5 1767.6,1031.4 1768.2,986.0 1768.8,1034.0 1769.4,989.7 1770.0,1043.4 1770.6,988.5 1771.2,1038.2 1771.8,991.5 1772.4,1036.6 1773.0,978.5 1773.6,1041.6 1774.2,981.6 1774.8,1038.3 1775.4,979.7 1776.0,1030.4 1776.6,989.9 1777.2,1035.8 1777.8,992.0 1778.4,1029.5 1779.0,995.5 1779.6,1033.3 1780.2,995.1 1780.8,1025.1 1781.4,996.6 1782.0,1030.4 1782.6,996.2 1783.2,1024.0 1783.8,998.9 1784.4,1024.4 1785.0,1000.5 1785.6,1024.8 1786.2,1000.8 1786.8,1022.4 1787.4,998.4 1788.0,1021.1 1788.6,998.9 1789.2,1023.1 1789.8,997.6 1790.4,1020.1 1791.0,1000.1 1791.6,1020.2 1792.2,994.6 1792.8,1019.7 1793.4,1000.6 1794.0,1025.2 1794.6,1000.4 1795.2,1019.8 1795.8,999.0 1796.4,1036.9 1797.0,998.7 1797.6,1020.9 1798.2,997.5 1798.8,1019.0 1799.4,997.1 1800.0,1020.0 1800.6,995.1 1801.2,1020.4 1801.8,995.2 1802.4,1023.3 1803.0,997.8 1803.6,1019.8 1804.2,998.4 1804.8,1022.2 1805.4,997.7 1806.0,1024.4 1806.6,997.9 1807.2,1041.0 1807.8,999.4 1808.4,1018.7 1809.0,999.0 1809.6,1027.1 1810.2,999.0 1810.8,1020.5 1811.4,996.5 1812.0,1018.3 1812.6,998.9 1813.2,1021.2 1813.8,998.6 1814.4,1019.3 1815.0,998.1 1815.6,1020.3 1816.2,996.6 1816.8,1018.1 1817.4,997.8 1818.0,1019.2 1818.6,998.1 1819.2,1021.9 1819.8,998.8 1820.4,1019.8 1821.0,994.0 1821.6,1021.7 1822.2,998.0 1822.8,1025.0 1823.4,996.1 1824.0,1021.4 1824.6,998.6 1825.2,1019.0 1825.8,999.7 1826.4,1020.2 1827.0,994.1 1827.6,1026.1 1828.2,997.6 1828.8,1021.8 1829.4,997.3 1830.0,1020.3 1830.6,998.1 1831.2,1018.6 1831.8,998.9 1832.4,1022.8 1833.0,994.1 1833.6,1021.5 1834.2,997.8 1834.8,1020.5 1835.4,996.2 1836.0,1023.2 1836.6,993.2 1837.2,1021.3 1837.8,990.6 1838.4,1026.3 1839.0,995.5 1839.6,1025.9 1840.2,989.4 1840.8,1033.8 1841.4,988.5 1842.0,1083.4 1842.6,989.2 1843.2,1029.5 1843.8,981.9 1844.4,1037.5 1845.0,985.3 1845.6,1032.0 1846.2,987.5 1846.8,1033.1 1847.4,980.2 1848.0,1033.9 1848.6,976.6 1849.2,1036.2 1849.8,987.9 1850.4,1041.9 1851.0,983.2 1851.6,1035.5 1852.2,989.0 1852.8,1029.7 1853.4,984.6 1854.0,1032.8 1854.6,991.2 1855.2,1025.7 1855.8,993.0 1856.4,1026.0 1857.0,980.0 1857.6,1023.5 1858.2,992.1 1858.8,1026.3 1859.4,995.8 1860.0,1053.1 1860.6,998.1 1861.2,1020.0 1861.8,998.1 1862.4,1019.4 1863.0,998.6 1863.6,1019.2 1864.2,996.2 1864.8,1019.0 1865.4,998.5 1866.0,1019.7 1866.6,996.3 1867.2,1021.5 1867.8,997.4 1868.4,1019.3 1869.0,997.7 1869.6,1018.5 1870.2,997.4 1870.8,1018.8 1871.4,998.3 1872.0,1020.5 1872.6,997.6 1873.2,1019.1 1873.8,996.7 1874.4,1023.8 1875.0,995.7 1875.6,1019.0 1876.2,997.0 1876.8,1022.8 1877.4,996.6 1878.0,1017.9 1878.6,999.2 1879.2,1019.3 1879.8,997.1 1880.4,1019.8 1881.0,998.6 1881.6,1018.4 1882.2,997.7 1882.8,1019.0 1883.4,998.8 1884.0,1024.3 1884.6,995.2 1885.2,1018.8 1885.8,997.0 1886.4,1037.6 1887.0,997.4 1887.6,1025.4 1888.2,994.4 1888.8,1022.6 1889.4,996.0 1890.0,1020.0 1890.6,998.2 1891.2,1028.2 1891.8,997.8 1892.4,1022.6 1893.0,998.1 1893.6,1022.1 1894.2,997.9 1894.8,1023.9 1895.4,997.7 1896.0,1023.0 1896.6,995.5 1897.2,1018.4 1897.8,997.5 1898.4,1021.4 1899.0,996.5 1899.6,1021.0 1900.2,997.1 1900.8,1018.9 1901.4,998.4 1902.0,1021.2 1902.6,999.6 1903.2,1023.1 1903.8,999.6 1904.4,1019.0 1905.0,999.1 1905.6,1019.4 1906.2,994.1 1906.8,1021.9 1907.4,999.4 1908.0,1024.3 1908.6,1000.2 1909.2,1020.2 1909.8,999.7 1910.4,1024.2 1911.0,999.2 1911.6,1021.6 1912.2,996.7 1912.8,1036.1 1913.4,998.2 1914.0,1019.9 1914.6,998.4 1915.2,1020.4 1915.8,996.2 1916.4,1019.6 1917.0,999.2 1917.6,1020.2 1918.2,999.3 1918.8,1020.9 1919.4,999.8 1920.0,1022.9 1920.6,998.2 1921.2,1022.7 1921.8,998.6 1922.4,1019.3 1923.0,998.2 1923.6,1030.0 1924.2,998.9 1924.8,1019.1 1925.4,996.1 1926.0,1020.8 1926.6,995.1 1927.2,1019.2 1927.8,996.9 1928.4,1026.1 1929.0,997.5 1929.6,1046.2 1930.2,998.8 1930.8,1031.4 1931.4,997.4 1932.0,1023.6 1932.6,996.7 1933.2,1020.5 1933.8,1000.3 1934.4,1021.1 1935.0,997.4 1935.6,1021.2 1936.2,1000.1 1936.8,1022.1 1937.4,995.7 1938.0,1020.8 1938.6,997.6 1939.2,1020.8 1939.8,997.2 1940.4,1019.9 1941.0,996.5 1941.6,1021.9 1942.2,996.6 1942.8,1040.1 1943.4,998.0 1944.0,1024.5 1944.6,998.3 1945.2,1024.8 1945.8,997.1 1946.4,1019.1 1947.0,999.6 1947.6,1021.0 1948.2,999.6 1948.8,1019.6 1949.4,996.1 1950.0,1031.8 1950.6,997.4 1951.2,1018.4 1951.8,997.3 1952.4,1027.6 1953.0,996.7 1953.6,1018.8 1954.2,997.7 1954.8,1019.5 1955.4,999.1 1956.0,1018.4 1956.6,997.8 1957.2,1018.8 1957.8,988.7 1958.4,1017.7 1959.0,998.8 1959.6,1019.5 1960.2,997.8 1960.8,1017.7 1961.4,995.0 1962.0,1018.7 1962.6,997.5 1963.2,1028.7 1963.8,997.9 1964.4,1025.1 1965.0,996.8 1965.6,1017.0 1966.2,995.1 1966.8,1018.2 1967.4,994.7 1968.0,1018.6 1968.6,994.5 1969.2,1018.3 1969.8,993.6 1970.4,1017.2 1971.0,994.4 1971.6,1017.2 1972.2,995.2 1972.8,1020.3 1973.4,995.8 1974.0,1017.5 1974.6,993.4 1975.2,1016.7 1975.8,997.5 1976.4,1017.0 1977.0,992.4 1977.6,1018.1 1978.2,996.2 1978.8,1018.5 1979.4,994.0 1980.0,1018.7 1980.6,994.3 1981.2,1019.6 1981.8,997.3 1982.4,1020.1 1983.0,997.0 1983.6,1017.5 1984.2,996.2 1984.8,1017.2 1985.4,998.3 1986.0,1017.8 1986.6,996.2 1987.2,1017.3 1987.8,996.6 1988.4,1020.5 1989.0,997.3 1989.6,1020.9 1990.2,998.9 1990.8,1019.4 1991.4,998.8 1992.0,1020.8 1992.6,993.9 1993.2,1020.0 1993.8,998.5 1994.4,1020.8 1995.0,996.0 1995.6,1025.1 1996.2,998.1 1996.8,1020.0 1997.4,994.2 1998.0,1021.5 1998.6,998.7 1999.2,1023.1 1999.8,999.6 2000.4,1019.9 2001.0,998.2 2001.6,1022.8 2002.2,999.3 2002.8,1022.0 2003.4,1000.3 2004.0,1019.6 2004.6,997.4 2005.2,1026.2 2005.8,995.3 2006.4,1022.5 2007.0,996.8 2007.6,1022.6 2008.2,1000.1 2008.8,1022.5 2009.4,999.3 2010.0,1020.4 2010.6,999.2 2011.2,1019.7 2011.8,1000.6 2012.4,1019.3 2013.0,998.5 2013.6,1029.2 2014.2,999.3 2014.8,1019.9 2015.4,999.4 2016.0,1022.3 2016.6,998.6 2017.2,1020.5 2017.8,999.5 2018.4,1026.9 2019.0,999.4 2019.6,1021.3 2020.2,999.0 2020.8,1022.4 2021.4,996.1 2022.0,1022.4 2022.6,998.0 2023.2,1020.3 2023.8,999.8 2024.4,1023.0 2025.0,996.8 2025.6,1019.9 2026.2,999.9 2026.8,1021.6 2027.4,997.2 2028.0,1021.8 2028.6,997.9 2029.2,1019.9 2029.8,998.4 2030.4,1023.3 2031.0,998.5 2031.6,1020.0 2032.2,998.4 2032.8,1030.6 2033.4,999.1 2034.0,1037.0 2034.6,998.5 2035.2,1024.3 2035.8,998.4 2036.4,1023.9 2037.0,997.7 2037.6,1023.1 2038.2,998.1 2038.8,1020.4 2039.4,997.8 2040.0,1021.0 2040.6,999.6 2041.2,1021.0 2041.8,997.0 2042.4,1019.2 2043.0,994.1 2043.6,1025.4 2044.2,998.8 2044.8,1021.6 2045.4,997.4 2046.0,1018.6 2046.6,999.4 2047.2,1020.4 2047.8,997.1 2048.4,1022.5 2049.0,997.0 2049.6,1023.5 2050.2,993.5 2050.8,1023.2 2051.4,997.2 2052.0,1021.1 2052.6,994.5 2053.2,1020.1 2053.8,998.1 2054.4,1021.5 2055.0,997.6 2055.6,1019.5 2056.2,997.9 2056.8,1021.9 2057.4,999.2 2058.0,1020.5 2058.6,1000.0 2059.2,1029.9 2059.8,999.9 2060.4,1021.0 2061.0,995.8 2061.6,1023.2 2062.2,995.8 2062.8,1024.4 2063.4,996.4 2064.0,1019.3 2064.6,999.3 2065.2,1022.4 2065.8,997.0 2066.4,1019.1 2067.0,999.2 2067.6,1021.1 2068.2,997.1 2068.8,1018.3 2069.4,994.9 2070.0,1018.8 2070.6,996.9 2071.2,1018.5 2071.8,999.1 2072.4,1019.4 2073.0,997.6 2073.6,1027.0 2074.2,994.8 2074.8,1019.7 2075.4,995.3 2076.0,1017.9 2076.6,998.0 2077.2,1022.1 2077.8,998.7 2078.4,1019.0 2079.0,998.2 2079.6,1018.8 2080.2,994.4 2080.8,1021.8 2081.4,994.7 2082.0,1021.3 2082.6,998.2 2083.2,1019.6 2083.8,998.0 2084.4,1016.8 2085.0,996.0 2085.6,1019.3 2086.2,994.9 2086.8,1019.5 2087.4,995.3 2088.0,1022.2 2088.6,995.5 2089.2,1026.3 2089.8,995.0 2090.4,1019.0 2091.0,994.5 2091.6,1018.4 2092.2,996.7 2092.8,1016.5 2093.4,995.7 2094.0,1018.0 2094.6,995.6 2095.2,1017.4 2095.8,994.8 2096.4,1020.1 2097.0,995.5 2097.6,1019.2 2098.2,995.4 2098.8,1017.2 2099.4,995.7 2100.0,1032.4 2100.6,994.6 2101.2,1020.5 2101.8,992.1 2102.4,1017.5 2103.0,996.5 2103.6,1019.0 2104.2,995.4 2104.8,1016.5 2105.4,996.0 2106.0,1020.0 2106.6,994.2 2107.2,1017.6 2107.8,987.6 2108.4,1018.1 2109.0,995.7 2109.6,1017.2 2110.2,989.7 2110.8,1019.9 2111.4,997.1 2112.0,1016.7 2112.6,995.3 2113.2,1017.4 2113.8,997.2 2114.4,1018.7 2115.0,996.5 2115.6,1017.7 2116.2,994.8 2116.8,1023.1 2117.4,994.0 2118.0,1016.9 2118.6,996.7 2119.2,1020.6 2119.8,997.1 2120.4,1018.1 2121.0,995.4 2121.6,1018.9 2122.2,996.2 2122.8,1017.2 2123.4,995.7 2124.0,1019.0 2124.6,996.4 2125.2,1041.9 2125.8,995.3 2126.4,1022.9 2127.0,994.3 2127.6,1023.8 2128.2,996.2 2128.8,1023.0 2129.4,995.4 2130.0,1018.0 2130.6,996.4 2131.2,1017.2 2131.8,997.2 2132.4,1019.0 2133.0,996.1 2133.6,1016.3 2134.2,996.3 2134.8,1021.3 2135.4,994.3 2136.0,1019.6 2136.6,996.8 2137.2,1016.2 2137.8,993.5 2138.4,1016.1 2139.0,995.9 2139.6,1015.9 2140.2,991.4 2140.8,1017.5 2141.4,996.1 2142.0,1018.3 2142.6,996.6 2143.2,1017.8 2143.8,996.4 2144.4,1015.9 2145.0,995.3 2145.6,1019.0 2146.2,996.3 2146.8,1024.0 2147.4,994.5 2148.0,1018.2 2148.6,996.5 2149.2,1015.4 2149.8,991.5 2150.4,1016.1 2151.0,992.2 2151.6,1018.5 2152.2,995.8 2152.8,1016.7 2153.4,994.8 2154.0,1016.9 2154.6,993.1 2155.2,1017.1 2155.8,993.6 2156.4,1018.4 2157.0,996.5 2157.6,1017.6 2158.2,995.9 2158.8,1016.3 2159.4,995.2 2160.0,1020.6 2160.6,990.6 2161.2,1017.0 2161.8,995.6 2162.4,1015.7 2163.0,992.7 2163.6,1016.1 2164.2,986.9 2164.8,1017.5 2165.4,995.6 2166.0,1015.7 2166.6,996.3 2167.2,1025.9 2167.8,994.3 2168.4,1016.5 2169.0,991.6 2169.6,1016.1 2170.2,997.0 2170.8,1016.2 2171.4,995.2 2172.0,1021.9 2172.6,996.9 2173.2,1019.6 2173.8,994.5 2174.4,1019.3 2175.0,997.1 2175.6,1019.3 2176.2,997.0 2176.8,1016.4 2177.4,993.6 2178.0,1026.6 2178.6,997.1 2179.2,1017.6 2179.8,997.5 2180.4,1018.6 2181.0,996.0 2181.6,1023.8 2182.2,996.6 2182.8,1020.8 2183.4,997.9 2184.0,1019.4 2184.6,996.4 2185.2,1019.3 2185.8,991.8 2186.4,1019.8 2187.0,998.7 2187.6,1019.1 2188.2,996.7 2188.8,1021.8 2189.4,994.3 2190.0,1020.3 2190.6,994.3 2191.2,1020.6 2191.8,998.9 2192.4,1018.7 2193.0,995.8 2193.6,1021.9 2194.2,996.7 2194.8,1023.8 2195.4,999.1 2196.0,1020.5 2196.6,997.2 2197.2,1018.6 2197.8,993.1 2198.4,1027.7 2199.0,1000.0 2199.6,1019.3 2200.2,998.4 2200.8,1021.1 2201.4,999.2 2202.0,1030.9 2202.6,999.1 2203.2,1026.9 2203.8,998.3 2204.4,1020.1 2205.0,1000.5 2205.6,1025.6 2206.2,1000.5 2206.8,1021.0 2207.4,1000.3 2208.0,1022.7 2208.6,999.1 2209.2,1020.1 2209.8,998.8 2210.4,1023.5 2211.0,996.5 2211.6,1026.9 2212.2,1001.2 2212.8,1020.3 2213.4,1000.5 2214.0,1025.7 2214.6,998.0 2215.2,1023.4 2215.8,1000.3 2216.4,1023.1 2217.0,1000.2 2217.6,1022.7 2218.2,1000.6 2218.8,1022.9 2219.4,1000.1 2220.0,1024.2 2220.6,1000.3 2221.2,1021.6 2221.8,1001.0 2222.4,1020.6 2223.0,1000.3 2223.6,1024.0 2224.2,1002.0 2224.8,1021.0 2225.4,1000.8 2226.0,1020.5 2226.6,997.4 2227.2,1025.4 2227.8,1000.6 2228.4,1024.0 2229.0,1000.1 2229.6,1021.9 2230.2,1000.9 2230.8,1024.1 2231.4,998.2 2232.0,1021.2 2232.6,999.2 2233.2,1023.6 2233.8,997.9 2234.4,1022.0 2235.0,999.9 2235.6,1023.1 2236.2,994.3 2236.8,1020.5 2237.4,999.7 2238.0,1023.2 2238.6,1000.6 2239.2,1027.5 2239.8,999.6 2240.4,1022.1 2241.0,996.2 2241.6,1020.9 2242.2,999.9 2242.8,1020.2 2243.4,999.6 2244.0,1023.4 2244.6,997.9 2245.2,1022.8 2245.8,997.6 2246.4,1021.0 2247.0,996.2 2247.6,1021.8 2248.2,997.0 2248.8,1023.1 2249.4,991.3 2250.0,1023.1 2250.6,987.9 2251.2,1024.8 2251.8,992.8 2252.4,1023.5 2253.0,993.8 2253.6,1044.4 2254.2,994.2 2254.8,1024.3 2255.4,994.8 2256.0,1024.0 2256.6,995.2 2257.2,1024.5 2257.8,996.9 2258.4,1020.7 2259.0,997.9 2259.6,1019.6 2260.2,995.7 2260.8,1019.6 2261.4,995.6 2262.0,1023.1 2262.6,996.2 2263.2,1018.1 2263.8,994.1 2264.4,1022.4 2265.0,995.5 2265.6,1018.7 2266.2,998.2 2266.8,1020.0 2267.4,994.1 2268.0,1018.9 2268.6,998.0 2269.2,1023.4 2269.8,995.6 2270.4,1019.5 2271.0,998.1 2271.6,1021.2 2272.2,997.9 2272.8,1017.5 2273.4,996.5 2274.0,1021.7 2274.6,995.3 2275.2,1018.8 2275.8,997.9 2276.4,1017.7 2277.0,998.0 2277.6,1017.4 2278.2,997.3 2278.8,1020.6 2279.4,997.6 2280.0,1019.1 2280.6,996.6 2281.2,1018.9 2281.8,993.6 2282.4,1017.8 2283.0,994.8 2283.6,1017.7 2284.2,994.2 2284.8,1018.6 2285.4,996.6 2286.0,1035.9 2286.6,994.5 2287.2,1023.8 2287.8,995.3 2288.4,1019.3 2289.0,992.9 2289.6,1022.3 2290.2,994.3 2290.8,1023.9 2291.4,991.5 2292.0,1028.2 2292.6,993.3 2293.2,1032.4 2293.8,990.5 2294.4,1023.5 2295.0,991.1 2295.6,1021.9 2296.2,992.0 2296.8,1033.6 2297.4,993.7 2298.0,1022.4 2298.6,993.9 2299.2,1028.1 2299.8,987.9 2300.4,1022.3 2301.0,995.6 2301.6,1022.6 2302.2,993.6 2302.8,1022.5 2303.4,996.7 2304.0,1020.5 2304.6,996.7 2305.2,1023.9 2305.8,996.9 2306.4,1025.9 2307.0,997.8 2307.6,1023.0 2308.2,993.6 2308.8,1019.0 2309.4,997.5 2310.0,1018.9 2310.6,997.4 2311.2,1021.9 2311.8,997.0 2312.4,1020.5 2313.0,996.1 2313.6,1018.8 2314.2,998.6 2314.8,1018.1 2315.4,997.5 2316.0,1021.4 2316.6,997.3 2317.2,1018.8 2317.8,996.9 2318.4,1018.1 2319.0,995.4 2319.6,1022.7 2320.2,997.3 2320.8,1023.1 2321.4,996.8 2322.0,1024.7 2322.6,998.9 2323.2,1021.6 2323.8,998.9 2324.4,1019.0 2325.0,996.9 2325.6,1027.1 2326.2,997.8 2326.8,1030.4 2327.4,996.3 2328.0,1017.8 2328.6,998.6 2329.2,1023.4 2329.8,995.8 2330.4,1019.0 2331.0,998.2 2331.6,1020.1 2332.2,997.7 2332.8,1030.3 2333.4,998.7 2334.0,1020.7 2334.6,998.0 2335.2,1023.3 2335.8,995.4 2336.4,1022.6 2337.0,998.3 2337.6,1020.0 2338.2,998.3 2338.8,1019.8 2339.4,997.4 2340.0,1021.8 2340.6,998.4 2341.2,1020.0 2341.8,997.8 2342.4,1018.7 2343.0,995.2 2343.6,1019.9 2344.2,997.3 2344.8,1018.6 2345.4,995.8 2346.0,1019.9 2346.6,997.2 2347.2,1017.4" fill="none" stroke="#000" stroke-width="2.2"/>
<path d="M1740.0,953.8L1740.0,1153.0M1744.4,964.6L1744.4,1147.0M1756.2,952.5L1756.2,1146.3M1769.7,975.0L1769.7,1048.0M1772.6,975.4L1772.6,1126.6M1777.5,966.8L1777.5,1030.0M1843.7,953.8L1843.7,1119.4M1848.6,937.7L1848.6,1154.4M1853.4,966.0L1853.4,1118.0M2218.0,971.3L2218.0,1127.5M2251.7,963.3L2251.7,1130.0M2294.0,968.6L2294.0,1120.7" fill="none" stroke="#000" stroke-width="3"/>
<rect x="684.2" y="266" width="4.4" height="25" fill="#e30613"/>
<rect x="684.2" y="340" width="4.4" height="49" fill="#e30613"/>
<rect x="684.2" y="438" width="4.4" height="49" fill="#e30613"/>
<rect x="684.2" y="536" width="4.4" height="48" fill="#e30613"/>
<rect x="684.2" y="635" width="4.4" height="49" fill="#e30613"/>
<rect x="684.2" y="733" width="4.4" height="49" fill="#e30613"/>
<rect x="684.2" y="831" width="4.4" height="49" fill="#e30613"/>
<rect x="684.2" y="929" width="4.4" height="49" fill="#e30613"/>
<rect x="684.2" y="1027" width="4.4" height="49" fill="#e30613"/>
<rect x="684.2" y="1125" width="4.4" height="25" fill="#e30613"/>
<path d="M566.0,1204.2L583.6,1154.4L600.5,1204.2Z" fill="#e30613" stroke="#000" stroke-width="1.6"/>
<path d="M600.5,1204.2L618.0,1154.4L635.0,1204.2Z" fill="#e30613" stroke="#000" stroke-width="1.6"/>
<path d="M635.0,1204.2L652.2,1154.4L669.7,1204.2Z" fill="#e30613" stroke="#000" stroke-width="1.6"/>
<path d="M1722.8,1204.2L1740.3,1154.4L1757.8,1204.2Z" fill="#3aaa35" stroke="#000" stroke-width="1.6"/>
<path d="M1757.8,1204.2L1775.3,1154.4L1793.4,1204.2Z" fill="#3aaa35" stroke="#000" stroke-width="1.6"/>
<path d="M1828.4,1204.2L1845.9,1154.4L1863.4,1204.2Z" fill="#3aaa35" stroke="#000" stroke-width="1.6"/>
<path d="M893.66,1238.96 A140.3,140.3 0 0 0 982.75,1502.16 L991.4,1519 L1011,1471.4 L954.7,1448 L963.00,1464.50 A100.4,100.4 0 0 1 911.74,1274.53 Z" fill="#e30613"/>
<path d="M893.66,1238.96 A140.3,140.3 0 0 0 982.75,1502.16 L991.4,1519 L1011,1471.4 L954.7,1448 L963.00,1464.50 A100.4,100.4 0 0 1 911.74,1274.53 Z" fill="#3aaa35" transform="translate(2636.2,0) scale(-1,1)"/>
<text x="1010.5" y="1339.2" font-size="58" font-weight="bold" font-style="normal" textLength="30.5" lengthAdjust="spacingAndGlyphs" >E</text>
<g stroke-linejoin="miter">
<path d="M1316,1597L1316.00,1565.40L1325.76,1566.95Z" fill="#f5b096" stroke="#7d7d7d" stroke-width="1.3"/>
<path d="M1316,1597L1326.20,1565.62L1335.40,1570.30Z" fill="#f5b096" stroke="#7d7d7d" stroke-width="1.3"/>
<path d="M1316,1597L1338.34,1566.26L1346.74,1574.66Z" fill="#f5b096" stroke="#7d7d7d" stroke-width="1.3"/>
<path d="M1316,1597L1352.16,1570.73L1358.51,1583.19Z" fill="#f5b096" stroke="#7d7d7d" stroke-width="1.3"/>
<path d="M1316,1597L1359.75,1582.79L1362.00,1597.00Z" fill="#f5b096" stroke="#7d7d7d" stroke-width="1.3"/>
<path d="M1316,1597L1388.70,1597.00L1385.14,1619.47Z" fill="#f5b096" stroke="#7d7d7d" stroke-width="1.3"/>
<path d="M1316,1597L1386.38,1619.87L1375.87,1640.50Z" fill="#f5b096" stroke="#7d7d7d" stroke-width="1.3"/>
<path d="M1316,1597L1434.93,1683.40L1402.40,1715.93Z" fill="#f5b096" stroke="#7d7d7d" stroke-width="1.3"/>
<path d="M1316,1597L1417.69,1736.96L1369.46,1761.53Z" fill="#f5b096" stroke="#7d7d7d" stroke-width="1.3"/>
<path d="M1316,1597L1385.53,1810.99L1316.00,1822.00Z" fill="#f5b096" stroke="#7d7d7d" stroke-width="1.3"/>
<path d="M1316,1597L1316.00,1828.00L1244.62,1816.69Z" fill="#f5b096" stroke="#7d7d7d" stroke-width="1.3"/>
<path d="M1316,1597L1254.20,1787.21L1198.44,1758.80Z" fill="#f5b096" stroke="#7d7d7d" stroke-width="1.3"/>
<path d="M1316,1597L1226.36,1720.38L1192.62,1686.64Z" fill="#f5b096" stroke="#7d7d7d" stroke-width="1.3"/>
<path d="M1316,1597L1219.73,1666.95L1202.82,1633.77Z" fill="#f5b096" stroke="#7d7d7d" stroke-width="1.3"/>
<path d="M1316,1597L1243.72,1620.49L1240.00,1597.00Z" fill="#f5b096" stroke="#7d7d7d" stroke-width="1.3"/>
<path d="M1316,1597L1248.30,1597.00L1251.61,1576.08Z" fill="#f5b096" stroke="#7d7d7d" stroke-width="1.3"/>
<path d="M1316,1597L1260.55,1578.98L1268.83,1562.73Z" fill="#f5b096" stroke="#7d7d7d" stroke-width="1.3"/>
<path d="M1316,1597L1280.73,1571.37L1290.37,1561.73Z" fill="#f5b096" stroke="#7d7d7d" stroke-width="1.3"/>
<path d="M1316,1597L1296.02,1569.49L1305.49,1564.66Z" fill="#f5b096" stroke="#7d7d7d" stroke-width="1.3"/>
<path d="M1316,1597L1310.16,1579.03L1316.00,1578.10Z" fill="#f5b096" stroke="#7d7d7d" stroke-width="1.3"/>
<path d="M1316,1597L1316.00,1516.30L1340.94,1520.25Z" fill="#8cc56f" stroke="#2b2b2b" stroke-width="1.8"/>
<path d="M1316,1597L1340.54,1521.49L1362.67,1532.76Z" fill="#8cc56f" stroke="#2b2b2b" stroke-width="1.8"/>
<path d="M1316,1597L1356.56,1541.18L1371.82,1556.44Z" fill="#8cc56f" stroke="#2b2b2b" stroke-width="1.8"/>
<path d="M1316,1597L1368.91,1558.56L1378.20,1576.79Z" fill="#8cc56f" stroke="#2b2b2b" stroke-width="1.8"/>
<path d="M1316,1597L1394.65,1571.44L1398.70,1597.00Z" fill="#8cc56f" stroke="#2b2b2b" stroke-width="1.8"/>
<path d="M1316,1597L1404.00,1597.00L1399.69,1624.19Z" fill="#8cc56f" stroke="#2b2b2b" stroke-width="1.8"/>
<path d="M1316,1597L1388.28,1620.49L1377.49,1641.67Z" fill="#8cc56f" stroke="#2b2b2b" stroke-width="1.8"/>
<path d="M1316,1597L1389.22,1650.19L1369.19,1670.22Z" fill="#8cc56f" stroke="#2b2b2b" stroke-width="1.8"/>
<path d="M1316,1597L1374.54,1677.58L1346.78,1691.73Z" fill="#8cc56f" stroke="#2b2b2b" stroke-width="1.8"/>
<path d="M1316,1597L1347.52,1694.01L1316.00,1699.00Z" fill="#8cc56f" stroke="#2b2b2b" stroke-width="1.8"/>
<path d="M1316,1597L1316.00,1703.00L1283.24,1697.81Z" fill="#8cc56f" stroke="#2b2b2b" stroke-width="1.8"/>
<path d="M1316,1597L1278.61,1712.08L1244.88,1694.89Z" fill="#8cc56f" stroke="#2b2b2b" stroke-width="1.8"/>
<path d="M1316,1597L1236.65,1706.22L1206.78,1676.35Z" fill="#8cc56f" stroke="#2b2b2b" stroke-width="1.8"/>
<path d="M1316,1597L1233.08,1657.25L1218.52,1628.67Z" fill="#8cc56f" stroke="#2b2b2b" stroke-width="1.8"/>
<path d="M1316,1597L1207.58,1632.23L1202.00,1597.00Z" fill="#8cc56f" stroke="#2b2b2b" stroke-width="1.8"/>
<path d="M1316,1597L1221.00,1597.00L1225.65,1567.64Z" fill="#8cc56f" stroke="#2b2b2b" stroke-width="1.8"/>
<path d="M1316,1597L1219.94,1565.79L1234.29,1537.63Z" fill="#8cc56f" stroke="#2b2b2b" stroke-width="1.8"/>
<path d="M1316,1597L1239.63,1541.51L1260.51,1520.63Z" fill="#8cc56f" stroke="#2b2b2b" stroke-width="1.8"/>
<path d="M1316,1597L1262.22,1522.97L1287.72,1509.98Z" fill="#8cc56f" stroke="#2b2b2b" stroke-width="1.8"/>
<path d="M1316,1597L1287.51,1509.31L1316.00,1504.80Z" fill="#8cc56f" stroke="#2b2b2b" stroke-width="1.8"/>
<path d="M1316,1597L1316.00,1565.40L1325.76,1566.95Z" fill="#c09848" stroke="#2b2b2b" stroke-width="1.6"/>
<path d="M1316,1597L1326.20,1565.62L1335.40,1570.30Z" fill="#c09848" stroke="#2b2b2b" stroke-width="1.6"/>
<path d="M1316,1597L1338.34,1566.26L1346.74,1574.66Z" fill="#c09848" stroke="#2b2b2b" stroke-width="1.6"/>
<path d="M1316,1597L1352.16,1570.73L1358.51,1583.19Z" fill="#c09848" stroke="#2b2b2b" stroke-width="1.6"/>
<path d="M1316,1597L1359.75,1582.79L1362.00,1597.00Z" fill="#c09848" stroke="#2b2b2b" stroke-width="1.6"/>
<path d="M1316,1597L1388.70,1597.00L1385.14,1619.47Z" fill="#c09848" stroke="#2b2b2b" stroke-width="1.6"/>
<path d="M1316,1597L1386.38,1619.87L1375.87,1640.50Z" fill="#c09848" stroke="#2b2b2b" stroke-width="1.6"/>
<path d="M1316,1597L1389.22,1650.19L1369.19,1670.22Z" fill="#c09848" stroke="#2b2b2b" stroke-width="1.6"/>
<path d="M1316,1597L1374.54,1677.58L1346.78,1691.73Z" fill="#c09848" stroke="#2b2b2b" stroke-width="1.6"/>
<path d="M1316,1597L1347.52,1694.01L1316.00,1699.00Z" fill="#c09848" stroke="#2b2b2b" stroke-width="1.6"/>
<path d="M1316,1597L1316.00,1703.00L1283.24,1697.81Z" fill="#c09848" stroke="#2b2b2b" stroke-width="1.6"/>
<path d="M1316,1597L1278.61,1712.08L1244.88,1694.89Z" fill="#c09848" stroke="#2b2b2b" stroke-width="1.6"/>
<path d="M1316,1597L1236.65,1706.22L1206.78,1676.35Z" fill="#c09848" stroke="#2b2b2b" stroke-width="1.6"/>
<path d="M1316,1597L1233.08,1657.25L1218.52,1628.67Z" fill="#c09848" stroke="#2b2b2b" stroke-width="1.6"/>
<path d="M1316,1597L1243.72,1620.49L1240.00,1597.00Z" fill="#c09848" stroke="#2b2b2b" stroke-width="1.6"/>
<path d="M1316,1597L1248.30,1597.00L1251.61,1576.08Z" fill="#c09848" stroke="#2b2b2b" stroke-width="1.6"/>
<path d="M1316,1597L1260.55,1578.98L1268.83,1562.73Z" fill="#c09848" stroke="#2b2b2b" stroke-width="1.6"/>
<path d="M1316,1597L1280.73,1571.37L1290.37,1561.73Z" fill="#c09848" stroke="#2b2b2b" stroke-width="1.6"/>
<path d="M1316,1597L1296.02,1569.49L1305.49,1564.66Z" fill="#c09848" stroke="#2b2b2b" stroke-width="1.6"/>
<path d="M1316,1597L1310.16,1579.03L1316.00,1578.10Z" fill="#c09848" stroke="#2b2b2b" stroke-width="1.6"/>
</g>
<line x1="1316" y1="1597" x2="1103.75" y2="1770.3" stroke="#0a6632" stroke-width="7.5" stroke-linecap="round"/>
<line x1="1316" y1="1597" x2="1285.6" y2="1868.5" stroke="#e30613" stroke-width="7.5" stroke-linecap="round"/>
<circle cx="1316.3" cy="1597.1" r="274.6" fill="none" stroke="#000" stroke-width="3.5"/>
<path d="M1054.8,1800.4 C1058.4,1805.3 1069.1,1821.4 1076.6,1829.9 C1084.1,1838.4 1092.1,1845.1 1099.9,1851.6 C1107.7,1858.1 1114.2,1863.0 1123.2,1868.7 C1132.2,1874.4 1143.9,1881.2 1154.2,1885.8 C1164.5,1890.4 1175.0,1893.5 1185.3,1896.6 C1195.6,1899.7 1205.9,1902.3 1216.3,1904.4 C1226.7,1906.5 1239.1,1907.8 1247.4,1909.1 C1255.7,1910.4 1262.9,1911.8 1266.0,1912.3" fill="none" stroke="#000" stroke-width="4.2"/>
<path d="M1258.8,1905.6 L1269.5,1913 L1258.5,1919.5" fill="none" stroke="#000" stroke-width="4.2" stroke-linejoin="miter"/>
<text transform="translate(1092.46,1827.91) rotate(40.61) scale(1.0051,1)" x="-11.00" y="0" font-size="36" font-weight="bold" font-style="italic">p</text>
<text transform="translate(1109.80,1841.61) rotate(36.74) scale(1.0051,1)" x="-11.00" y="0" font-size="36" font-weight="bold" font-style="italic">h</text>
<text transform="translate(1126.63,1854.36) rotate(35.97) scale(1.0051,1)" x="-10.01" y="0" font-size="36" font-weight="bold" font-style="italic">a</text>
<text transform="translate(1143.62,1865.10) rotate(28.09) scale(1.0051,1)" x="-10.01" y="0" font-size="36" font-weight="bold" font-style="italic">s</text>
<text transform="translate(1161.78,1873.77) rotate(23.78) scale(1.0051,1)" x="-10.01" y="0" font-size="36" font-weight="bold" font-style="italic">e</text>
<text transform="translate(1176.59,1880.04) rotate(22.23) scale(1.0051,1)" x="-5.99" y="0" font-size="36" font-weight="bold" font-style="italic">-</text>
<text transform="translate(1191.54,1885.98) rotate(20.78) scale(1.0051,1)" x="-10.01" y="0" font-size="36" font-weight="bold" font-style="italic">s</text>
<text transform="translate(1211.58,1892.62) rotate(16.23) scale(1.0051,1)" x="-11.00" y="0" font-size="36" font-weight="bold" font-style="italic">h</text>
<text transform="translate(1227.07,1896.92) rotate(14.83) scale(1.0051,1)" x="-5.00" y="0" font-size="36" font-weight="bold" font-style="italic">i</text>
<text transform="translate(1237.82,1899.45) rotate(11.43) scale(1.0051,1)" x="-5.99" y="0" font-size="36" font-weight="bold" font-style="italic">f</text>
<text transform="translate(1249.68,1901.58) rotate(9.13) scale(1.0051,1)" x="-5.99" y="0" font-size="36" font-weight="bold" font-style="italic">t</text>
<line x1="1316.2" y1="1891.1" x2="1592.7" y2="1891.1" stroke="#000" stroke-width="2.4"/>
<text x="1498.0" y="1946.9" font-size="47.025" font-weight="normal" font-style="normal" textLength="80.0" lengthAdjust="spacingAndGlyphs" >250</text>
<text x="1620.0" y="1634.3" font-size="49.5" font-weight="normal" font-style="normal" textLength="783.0" lengthAdjust="spacingAndGlyphs" >MUA locking over &#952;-oscillation during</text>
<text x="1620.0" y="1693.9" font-size="49.5" font-weight="normal" font-style="normal" textLength="803.0" lengthAdjust="spacingAndGlyphs" >background (green) vs before IED (red)</text>
<text x="15.0" y="2005.5" font-size="49.5" font-weight="bold" font-style="normal" textLength="167.0" lengthAdjust="spacingAndGlyphs" >Legend</text>
<text x="15.7" y="2064.6" font-size="49.5" textLength="32.9" lengthAdjust="spacingAndGlyphs"><tspan font-weight="bold">A</tspan></text>
<text x="58.6" y="2064.6" font-size="49.5" textLength="292.9" lengthAdjust="spacingAndGlyphs">Example of an</text>
<text x="361.5" y="2064.6" font-size="49.5" textLength="825.0" lengthAdjust="spacingAndGlyphs">interictal epileptic discharge (IED) in the</text>
<text x="1196.5" y="2064.6" font-size="49.5" textLength="568.6" lengthAdjust="spacingAndGlyphs">left, epileptic hippocampus</text>
<text x="1775.1" y="2064.6" font-size="49.5" textLength="411.9" lengthAdjust="spacingAndGlyphs">(the red dashed line</text>
<text x="2197.0" y="2064.6" font-size="49.5" textLength="267.2" lengthAdjust="spacingAndGlyphs">indicates the</text>
<text x="16.2" y="2124.6" font-size="49.5" textLength="352.5" lengthAdjust="spacingAndGlyphs">onset of the IED).</text>
<text x="378.7" y="2124.6" font-size="49.5" textLength="28.7" lengthAdjust="spacingAndGlyphs"><tspan font-weight="bold">B</tspan></text>
<text x="417.4" y="2124.6" font-size="49.5" textLength="666.1" lengthAdjust="spacingAndGlyphs">Simultaneous multi-unit activity</text>
<text x="1093.5" y="2124.6" font-size="49.5" textLength="829.3" lengthAdjust="spacingAndGlyphs">(MUA) in the contralateral hippocampus</text>
<text x="1932.8" y="2124.6" font-size="49.5" textLength="252.0" lengthAdjust="spacingAndGlyphs">shows three</text>
<text x="2194.8" y="2124.6" font-size="49.5" textLength="268.4" lengthAdjust="spacingAndGlyphs">bursts occur-</text>
<text x="16.2" y="2184.5" font-size="49.5" textLength="136.2" lengthAdjust="spacingAndGlyphs">ring at</text>
<text x="163.9" y="2184.5" font-size="49.5" textLength="358.0" lengthAdjust="spacingAndGlyphs">comparable time</text>
<text x="533.4" y="2184.5" font-size="49.5" textLength="177.5" lengthAdjust="spacingAndGlyphs">intervals</text>
<text x="722.4" y="2184.5" font-size="49.5" textLength="357.4" lengthAdjust="spacingAndGlyphs">(red arrowheads)</text>
<text x="1091.3" y="2184.5" font-size="49.5" textLength="216.2" lengthAdjust="spacingAndGlyphs">before the</text>
<text x="1319.0" y="2184.5" font-size="49.5" textLength="345.8" lengthAdjust="spacingAndGlyphs">onset of the IED.</text>
<text x="1676.3" y="2184.5" font-size="49.5" textLength="30.2" lengthAdjust="spacingAndGlyphs"><tspan font-weight="bold">C</tspan></text>
<text x="1718.0" y="2184.5" font-size="49.5" textLength="154.7" lengthAdjust="spacingAndGlyphs">Normal</text>
<text x="1884.2" y="2184.5" font-size="49.5" textLength="387.2" lengthAdjust="spacingAndGlyphs">background in the</text>
<text x="2282.9" y="2184.5" font-size="49.5" textLength="180.3" lengthAdjust="spacingAndGlyphs">epileptic</text>
<text x="16.2" y="2244.5" font-size="49.5" textLength="298.3" lengthAdjust="spacingAndGlyphs">hippocampus.</text>
<text x="328.5" y="2244.5" font-size="49.5" textLength="33.2" lengthAdjust="spacingAndGlyphs"><tspan font-weight="bold">D</tspan></text>
<text x="375.7" y="2244.5" font-size="49.5" textLength="285.4" lengthAdjust="spacingAndGlyphs">Simultaneous</text>
<text x="675.1" y="2244.5" font-size="49.5" textLength="240.2" lengthAdjust="spacingAndGlyphs">MUA in the</text>
<text x="929.3" y="2244.5" font-size="49.5" textLength="264.0" lengthAdjust="spacingAndGlyphs">contralateral</text>
<text x="1207.3" y="2244.5" font-size="49.5" textLength="297.5" lengthAdjust="spacingAndGlyphs">hippocampus.</text>
<text x="1518.8" y="2244.5" font-size="49.5" textLength="185.2" lengthAdjust="spacingAndGlyphs">Note the</text>
<text x="1718.0" y="2244.5" font-size="49.5" textLength="110.5" lengthAdjust="spacingAndGlyphs">more</text>
<text x="1842.5" y="2244.5" font-size="49.5" textLength="176.4" lengthAdjust="spacingAndGlyphs">irregular</text>
<text x="2032.9" y="2244.5" font-size="49.5" textLength="95.1" lengthAdjust="spacingAndGlyphs">time</text>
<text x="2142.0" y="2244.5" font-size="49.5" textLength="159.1" lengthAdjust="spacingAndGlyphs">interval</text>
<text x="2315.1" y="2244.5" font-size="49.5" textLength="59.1" lengthAdjust="spacingAndGlyphs">for</text>
<text x="2388.2" y="2244.5" font-size="49.5" textLength="75.0" lengthAdjust="spacingAndGlyphs">this</text>
<text x="16.2" y="2304.5" font-size="49.5" textLength="485.7" lengthAdjust="spacingAndGlyphs">background-associated</text>
<text x="511.9" y="2304.5" font-size="49.5" textLength="101.7" lengthAdjust="spacingAndGlyphs">MUA</text>
<text x="623.6" y="2304.5" font-size="49.5" textLength="412.6" lengthAdjust="spacingAndGlyphs">(green arrowheads).</text>
<text x="1046.2" y="2304.5" font-size="49.5" textLength="258.5" lengthAdjust="spacingAndGlyphs">Window size</text>
<text x="1314.7" y="2304.5" font-size="49.5" textLength="323.3" lengthAdjust="spacingAndGlyphs">for A, B, C, D = 4</text>
<text x="1648.0" y="2304.5" font-size="49.5" textLength="180.3" lengthAdjust="spacingAndGlyphs">seconds.</text>
<text x="1838.3" y="2304.5" font-size="49.5" textLength="25.6" lengthAdjust="spacingAndGlyphs"><tspan font-weight="bold">E</tspan></text>
<text x="1873.9" y="2304.5" font-size="49.5" textLength="344.0" lengthAdjust="spacingAndGlyphs">Theta-oscillation</text>
<text x="2227.9" y="2304.5" font-size="49.5" textLength="126.6" lengthAdjust="spacingAndGlyphs">phase</text>
<text x="2364.5" y="2304.5" font-size="49.5" textLength="98.7" lengthAdjust="spacingAndGlyphs">lock-</text>
<text x="16.2" y="2364.4" font-size="49.5" textLength="118.2" lengthAdjust="spacingAndGlyphs">ing of</text>
<text x="142.4" y="2364.4" font-size="49.5" textLength="228.3" lengthAdjust="spacingAndGlyphs">MUA in the</text>
<text x="378.7" y="2364.4" font-size="49.5" textLength="157.4" lengthAdjust="spacingAndGlyphs">pre-IED</text>
<text x="544.1" y="2364.4" font-size="49.5" textLength="138.1" lengthAdjust="spacingAndGlyphs">period</text>
<text x="690.2" y="2364.4" font-size="49.5" textLength="184.7" lengthAdjust="spacingAndGlyphs">(red) and</text>
<text x="882.9" y="2364.4" font-size="49.5" textLength="254.1" lengthAdjust="spacingAndGlyphs">background</text>
<text x="1145.0" y="2364.4" font-size="49.5" textLength="159.5" lengthAdjust="spacingAndGlyphs">(green).</text>
<text x="1312.5" y="2364.4" font-size="49.5" textLength="181.0" lengthAdjust="spacingAndGlyphs">Note the</text>
<text x="1501.5" y="2364.4" font-size="49.5" textLength="136.7" lengthAdjust="spacingAndGlyphs">strong</text>
<text x="1646.2" y="2364.4" font-size="49.5" textLength="294.5" lengthAdjust="spacingAndGlyphs">phase-locking</text>
<text x="1948.7" y="2364.4" font-size="49.5" textLength="158.7" lengthAdjust="spacingAndGlyphs">and the</text>
<text x="2115.4" y="2364.4" font-size="49.5" textLength="116.6" lengthAdjust="spacingAndGlyphs">slight</text>
<text x="2240.0" y="2364.4" font-size="49.5" textLength="125.1" lengthAdjust="spacingAndGlyphs">phase</text>
<text x="2373.1" y="2364.4" font-size="49.5" textLength="90.1" lengthAdjust="spacingAndGlyphs">shift</text>
<text x="16.2" y="2424.4" font-size="49.5" textLength="224.8" lengthAdjust="spacingAndGlyphs">for pre-IED</text>
<text x="252.0" y="2424.4" font-size="49.5" textLength="111.4" lengthAdjust="spacingAndGlyphs">MUA.</text>
<text x="374.4" y="2424.4" font-size="49.5" textLength="117.9" lengthAdjust="spacingAndGlyphs">Scale:</text>
<text x="503.3" y="2424.4" font-size="49.5" textLength="428.8" lengthAdjust="spacingAndGlyphs">number of identified</text>
<text x="943.1" y="2424.4" font-size="49.5" textLength="100.7" lengthAdjust="spacingAndGlyphs">MUA</text>
<text x="1054.8" y="2424.4" font-size="49.5" textLength="70.6" lengthAdjust="spacingAndGlyphs">per</text>
<text x="1136.4" y="2424.4" font-size="49.5" textLength="220.0" lengthAdjust="spacingAndGlyphs">phase-bin.</text>
</svg>
</body></html>
